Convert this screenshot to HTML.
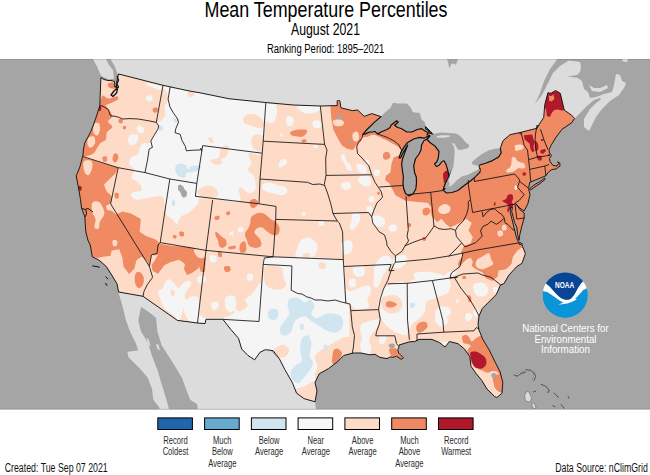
<!DOCTYPE html><html><head><meta charset="utf-8"><title>Mean Temperature Percentiles</title>
<style>html,body{margin:0;padding:0;background:#fff}svg{display:block}text{font-family:"Liberation Sans",sans-serif}</style></head><body>
<svg width="650" height="475" viewBox="0 0 650 475">
<rect width="650" height="475" fill="#fff"/>
<defs><clipPath id="mapclip"><rect x="0" y="59.0" width="650" height="350.7"/></clipPath>
<clipPath id="usclip"><path d="M100.9 77.6 L104 79.5 L108 80.5 L111 80.5 L114.5 81.5 L114.8 87 L116.3 87 L117 80 L118.6 74 L163 85.3 L169.8 86.8 L190 91.1 L200 92.8 L228.8 98.7 L265.4 102.5 L293.4 105 L320.3 106 L337.2 105.6 L337.2 100.7 L339.8 100.7 L340.9 107.8 L352.3 110.6 L357.7 110 L364.2 116.4 L371.7 113.6 L381 116.6 L400 115 L420 122 L426 127 L431 132 L435 136 L442 140 L452 150 L452.5 165 L449 176.6 L447.2 180.4 L447.5 185 L444.6 187.4 L446 189.8 L462 182 L475 175 L480 170.5 L479 166 L480 161 L492 154 L500.3 148.5 L503 140.7 L510 134.7 L521 132.3 L537.2 128.2 L539.4 124 L543.7 117.5 L544.8 104.5 L548 92.7 L551 93.3 L555.5 90.5 L560.3 93.3 L564.2 110 L571.7 115.3 L574.5 118.5 L571.7 122.8 L562 129.3 L558.8 133.6 L555.5 138 L551 145.5 L549 149.8 L549.5 153 L551.5 155.5 L549.5 158.5 L550 161.5 L553 165.5 L557 166 L558.5 163.5 L557.7 161.8 L559.8 163 L560 166 L556 169 L552 169.5 L549 171.5 L545.8 175.8 L538 179 L529.7 182.3 L528.6 188.8 L530 194.7 L527.9 203.6 L524.2 211 L519.8 208 L516.8 205 L515.4 203.5 L517.5 206 L519.8 209.5 L524.2 213 L524.2 218 L522 225.7 L519.8 234.5 L519 240.4 L517.6 234.5 L516.8 227.2 L514.6 222.7 L513.2 216.8 L511.7 211.7 L512.4 207.3 L510.5 207.5 L510.2 211.7 L511.7 218.3 L513.2 224.2 L514.6 230 L516 236 L517.6 240.4 L519.8 244.8 L522 243.4 L522 245 L525.4 253.6 L522 263.3 L516.8 266.5 L509 275 L503.8 283.8 L500.6 284.8 L496.3 294.5 L488.8 302 L482.3 308.5 L479 316 L478 324.7 L479 330 L482.8 339.4 L489.2 350 L494.6 361 L500 371.7 L502.8 382.5 L502 393.2 L496.8 397.5 L494.6 396.5 L487 389 L481.7 380.3 L476.3 373.8 L471 366.3 L469.8 356.6 L464.5 349 L458 343.7 L449.4 341.5 L445 347 L439.5 342.6 L432 339.4 L419 339.4 L414.8 341.5 L409.4 341.8 L399 345 L398.7 347.9 L397.7 349.6 L398.6 353 L403.4 357.9 L401.2 359.4 L396.5 356.2 L392.5 357.4 L390.5 356.8 L387 358.6 L380 357.4 L375 354.3 L369.7 354.8 L361 353 L353.3 353 L343.7 355.5 L337.2 362 L328.6 368.5 L319.2 373.8 L315 382.5 L317 391 L315 401.8 L304 398.6 L296.6 393.2 L292.3 382.5 L284.8 369.5 L279.4 358.8 L273 350.6 L265.4 349.7 L260 352.3 L254.6 359.8 L248 355.5 L241.7 349 L238.5 338.3 L231 329.7 L223.4 320 L222.3 319.3 L206 319.3 L205 323.6 L197.5 323 L177.4 320.4 L143 296.3 L118.6 292 L117 283.8 L111.7 275 L106.3 266.5 L98.8 260 L92.3 256.8 L90.2 245 L88 240.5 L85.8 231.8 L84.8 216.8 L81.5 208 L80.5 199.5 L78.3 186.6 L76.2 175.8 L78.3 171 L80 166.5 L81.8 160 L82.9 155.3 L83.5 149 L84.8 142.6 L88 137 L90.8 131.6 L93 126 L95.5 119 L97.5 113 L99.8 105.6Z M529.7 188.8 L534 185 L540 181.5 L544.8 178 L545 179.5 L540 183.5 L534 187.5 L530.5 190Z"/></clipPath></defs>
<g clip-path="url(#mapclip)">
<rect x="0" y="59.0" width="650" height="350.7" fill="#a5a5a5"/>
<path d="M110.5 59 L115 66.8 L117.2 73.3 L118.5 73.8 L120 140 L430 140 L440 196 L485 196 L505 140 L540 140 L560 125 L573 119 L574 119 L580 113 L588 105 L594 100 L600 98 L601 99.5 L596 103 L590 109 L584 119 L584 127 L589 131 L592 125 L596 117 L602 109 L610 101 L619 95 L624 88 L626 83 L622 81 L620 75 L616 74 L614 85 L612 92 L604 94 L596 97 L590 98 L588 92 L584 89 L582 81 L578 78 L567 76.6 L577 75 L580 72 L581 67 L580 62 L569 60.6 L560 66 L553 73 L547 85 L542 95 L535 104 L540 93 L544 81 L550 69 L556 61 L557 59Z" fill="#dcdcdc"/>
<path d="M92.9 59 L96.7 65.8 L99.4 72.2 L101.5 76 L109 79.6 L114 78.6 L113 70 L108.8 64.7 L106 59Z" fill="#dcdcdc"/>
<path d="M589 85 L594 88 L600 88 L607 85 L608 88 L600 92 L592 91Z" fill="#dcdcdc"/>
<path d="M622 59 L628 59 L627 62 L623 61.5Z" fill="#dcdcdc"/>
<path d="M118.6 292.7 L121.9 304 L126 320.5 L130 331.5 L135.5 342.4 L138.3 350.6 L133 351 L127.3 352 L128.7 357.5 L135.5 364.3 L141 369.8 L147.9 378 L152 389 L153.3 399.8 L158.8 406.7 L160 409.7 L169 409.7 L168.4 406.7 L165.6 397 L161.5 383.4 L157.4 369.8 L152 356 L147.9 342.4 L141 331.5 L138.3 320.5 L141 306.9 L149.2 312.3 L156 317.8 L157.4 331.5 L161.5 345 L168.4 356 L173.8 364.3 L182 378 L186 389 L190.2 399.8 L197 404 L198 409.7 L316 409.7 L315 401.8 L300 380 L260 340 L222 318 L143 290Z" fill="#dcdcdc"/>
<path d="M146.5 338 L148.5 339 L150.6 346.5 L148.5 345Z" fill="#dcdcdc"/>
<path d="M156 344 L158.5 344.5 L160 350.6 L157.5 349Z" fill="#dcdcdc"/>
<path d="M447.1 59.3 L457.8 59.3 L456.1 64.7 L451.8 63.2 L449.2 68.4 L448.4 63.6Z" fill="#a5a5a5"/>
<path d="M526.2 392 L528.5 391.6 L530 394.5 L531.5 398 L530 402 L527 401.5 L525.4 399.6 L524.6 396Z" fill="#dcdcdc" stroke="#444" stroke-width="0.4"/>
<path d="M532.3 402.7 L534 403 L536.2 408 L533.5 408.5 L532 405.5Z" fill="#dcdcdc" stroke="#444" stroke-width="0.4"/>
<path d="M533.5 373.5 L535 374 L535.4 376.5 L534.3 380.4 L532.6 380 L533.8 376.5Z" fill="#dcdcdc" stroke="#444" stroke-width="0.4"/>
<path d="M516.5 374 L521 372.5 L525.4 371.3 L525.6 372.3 L521 373.8 L517.5 376Z" fill="#dcdcdc" stroke="#444" stroke-width="0.4"/>
<path d="M548.6 390 L549.6 390.6 L548.8 392.8 L547.5 392.3Z" fill="#dcdcdc" stroke="#444" stroke-width="0.4"/>
<path d="M557.5 396 L559 397.3 L558 398.3 L556.8 397.3Z" fill="#dcdcdc" stroke="#444" stroke-width="0.4"/>
<path d="M513.8 375 L517 376.2 L521 373.5 L525.4 372 M525.4 369.6 L530.8 370.4 L534.6 373.5 L535.4 376.5 L533.8 380.4 M540.8 384.2 L546.2 386.5 L549.2 390.4 L548 392.7 M553.8 392.7 L556 395 L558.5 397.3 M568 396 L569 398.5 M560.8 404.2 L564.6 408.8 M552.5 405.5 L555.5 407 M533 392 L536 391" fill="none" stroke="#333" stroke-width="0.7"/>
<path d="M100.9 77.6 L104 79.5 L108 80.5 L111 80.5 L114.5 81.5 L114.8 87 L116.3 87 L117 80 L118.6 74 L163 85.3 L169.8 86.8 L190 91.1 L200 92.8 L228.8 98.7 L265.4 102.5 L293.4 105 L320.3 106 L337.2 105.6 L337.2 100.7 L339.8 100.7 L340.9 107.8 L352.3 110.6 L357.7 110 L364.2 116.4 L371.7 113.6 L381 116.6 L400 115 L420 122 L426 127 L431 132 L435 136 L442 140 L452 150 L452.5 165 L449 176.6 L447.2 180.4 L447.5 185 L444.6 187.4 L446 189.8 L462 182 L475 175 L480 170.5 L479 166 L480 161 L492 154 L500.3 148.5 L503 140.7 L510 134.7 L521 132.3 L537.2 128.2 L539.4 124 L543.7 117.5 L544.8 104.5 L548 92.7 L551 93.3 L555.5 90.5 L560.3 93.3 L564.2 110 L571.7 115.3 L574.5 118.5 L571.7 122.8 L562 129.3 L558.8 133.6 L555.5 138 L551 145.5 L549 149.8 L549.5 153 L551.5 155.5 L549.5 158.5 L550 161.5 L553 165.5 L557 166 L558.5 163.5 L557.7 161.8 L559.8 163 L560 166 L556 169 L552 169.5 L549 171.5 L545.8 175.8 L538 179 L529.7 182.3 L528.6 188.8 L530 194.7 L527.9 203.6 L524.2 211 L519.8 208 L516.8 205 L515.4 203.5 L517.5 206 L519.8 209.5 L524.2 213 L524.2 218 L522 225.7 L519.8 234.5 L519 240.4 L517.6 234.5 L516.8 227.2 L514.6 222.7 L513.2 216.8 L511.7 211.7 L512.4 207.3 L510.5 207.5 L510.2 211.7 L511.7 218.3 L513.2 224.2 L514.6 230 L516 236 L517.6 240.4 L519.8 244.8 L522 243.4 L522 245 L525.4 253.6 L522 263.3 L516.8 266.5 L509 275 L503.8 283.8 L500.6 284.8 L496.3 294.5 L488.8 302 L482.3 308.5 L479 316 L478 324.7 L479 330 L482.8 339.4 L489.2 350 L494.6 361 L500 371.7 L502.8 382.5 L502 393.2 L496.8 397.5 L494.6 396.5 L487 389 L481.7 380.3 L476.3 373.8 L471 366.3 L469.8 356.6 L464.5 349 L458 343.7 L449.4 341.5 L445 347 L439.5 342.6 L432 339.4 L419 339.4 L414.8 341.5 L409.4 341.8 L399 345 L398.7 347.9 L397.7 349.6 L398.6 353 L403.4 357.9 L401.2 359.4 L396.5 356.2 L392.5 357.4 L390.5 356.8 L387 358.6 L380 357.4 L375 354.3 L369.7 354.8 L361 353 L353.3 353 L343.7 355.5 L337.2 362 L328.6 368.5 L319.2 373.8 L315 382.5 L317 391 L315 401.8 L304 398.6 L296.6 393.2 L292.3 382.5 L284.8 369.5 L279.4 358.8 L273 350.6 L265.4 349.7 L260 352.3 L254.6 359.8 L248 355.5 L241.7 349 L238.5 338.3 L231 329.7 L223.4 320 L222.3 319.3 L206 319.3 L205 323.6 L197.5 323 L177.4 320.4 L143 296.3 L118.6 292 L117 283.8 L111.7 275 L106.3 266.5 L98.8 260 L92.3 256.8 L90.2 245 L88 240.5 L85.8 231.8 L84.8 216.8 L81.5 208 L80.5 199.5 L78.3 186.6 L76.2 175.8 L78.3 171 L80 166.5 L81.8 160 L82.9 155.3 L83.5 149 L84.8 142.6 L88 137 L90.8 131.6 L93 126 L95.5 119 L97.5 113 L99.8 105.6Z M529.7 188.8 L534 185 L540 181.5 L544.8 178 L545 179.5 L540 183.5 L534 187.5 L530.5 190Z" fill="#fddbc7"/>
<g clip-path="url(#usclip)">
<path d="M163 84 C168.5 83.5 182.8 87.3 200 90 C217.2 92.7 255.3 93.3 266 100 C276.7 106.7 264.6 121.1 264 130 C263.4 138.9 265.0 149.3 262.5 153.2 C260.0 157.1 251.0 151.6 249.2 153.2 C247.3 154.8 251.6 160.3 251.4 163 C251.2 165.7 247.7 167.3 248 169.4 C248.3 171.5 252.2 173.3 253.5 175.8 C254.8 178.3 255.5 182.0 255.7 184.5 C255.9 187.0 255.9 189.6 254.6 191 C253.3 192.4 250.2 193.6 248 193 C245.8 192.4 243.3 188.2 241.7 187.7 C240.1 187.2 238.7 188.0 238.5 189.8 C238.3 191.6 241.0 196.5 240.6 198.5 C240.2 200.5 240.1 201.9 236.3 202 C232.5 202.1 224.1 199.6 218 199 C211.9 198.4 203.4 197.7 200 198.5 C196.6 199.3 199.6 201.5 197.8 203.8 C196.0 206.1 192.1 210.3 189.2 212.5 C186.3 214.7 182.6 214.8 180.6 216.8 C178.6 218.8 178.8 223.9 177.4 224.3 C176.0 224.7 173.8 220.6 172 219 C170.2 217.4 167.8 216.9 166.6 214.6 C165.4 212.3 165.9 208.1 165 205 C164.1 201.9 164.4 197.4 161.2 196.3 C158.0 195.2 150.2 198.0 146 198.5 C141.8 199.0 138.5 200.1 136 199.5 C133.5 198.9 131.3 196.2 131 195 C130.7 193.8 132.3 192.8 134 192 C135.7 191.2 140.5 192.0 141.4 190.5 C142.3 189.0 140.8 185.0 139.2 183 C137.6 181.0 132.8 180.2 131.7 178.6 C130.6 177.0 132.5 174.8 132.8 173.2 C133.2 171.6 134.4 170.4 133.8 169 C133.2 167.6 130.0 166.4 129.5 164.6 C129.0 162.8 129.2 160.0 130.6 158.2 C132.0 156.4 136.6 155.8 138.2 153.8 C139.8 151.8 139.2 148.1 140.3 146.3 C141.4 144.5 143.2 143.6 144.6 143 C146.0 142.4 147.2 144.8 149 143 C150.8 141.2 153.8 135.2 155.4 132.3 C157.0 129.4 158.2 127.4 158.6 125.8 C158.9 124.2 157.0 123.4 157.5 122.6 C158.0 121.8 160.2 122.1 161.5 120.8 C162.8 119.5 164.9 116.9 165.4 114.6 C165.9 112.3 164.2 109.3 164.6 107 C165.0 104.7 167.3 103.1 167.7 100.8 C168.1 98.5 167.8 95.8 167 93 C166.2 90.2 157.5 84.5 163 84Z" fill="#f5f5f5"/>
<path d="M129.5 135.5 C130.9 134.1 135.7 133.8 137.1 134.5 C138.5 135.2 138.8 138.0 138.2 139.8 C137.6 141.6 135.4 144.6 133.8 145.2 C132.2 145.8 129.2 144.7 128.5 143.1 C127.8 141.5 128.1 136.9 129.5 135.5Z" fill="#f5f5f5"/>
<path d="M146.9 83.1 C147.9 82.8 151.4 83.6 153.8 84.2 C156.2 84.8 160.3 85.6 161.5 86.6 C162.7 87.6 162.0 89.6 161.2 90 C160.4 90.4 158.4 89.7 156.9 89.2 C155.4 88.7 153.8 87.8 152.3 87.2 C150.8 86.6 148.6 86.4 147.7 85.7 C146.8 85.0 145.9 83.3 146.9 83.1Z" fill="#f5f5f5"/>
<path d="M146.5 96.2 C147.4 95.6 150.5 94.8 151.5 95.4 C152.5 96.0 152.8 99.0 152.3 100 C151.8 101.0 149.5 101.6 148.5 101.5 C147.5 101.4 146.5 100.1 146.2 99.2 C145.9 98.3 145.6 96.8 146.5 96.2Z" fill="#f5f5f5"/>
<path d="M136.9 126.9 C137.5 126.0 140.2 125.5 141.5 126.2 C142.8 126.9 144.6 129.6 144.6 130.8 C144.6 132.0 142.7 133.3 141.5 133.4 C140.3 133.5 138.5 132.6 137.7 131.5 C136.9 130.4 136.3 127.8 136.9 126.9Z" fill="#f5f5f5"/>
<path d="M165.5 281.3 C166.4 280.4 168.4 278.8 169.8 279.2 C171.2 279.6 172.8 282.1 174.2 283.5 C175.6 284.9 177.1 287.8 178.5 287.8 C179.9 287.8 181.2 284.7 182.8 283.5 C184.4 282.3 186.8 280.7 188.2 280.7 C189.6 280.7 191.4 282.1 191.4 283.5 C191.4 284.9 189.3 287.0 188.2 288.8 C187.1 290.6 185.3 292.4 184.9 294.2 C184.5 296.0 184.9 299.2 186 299.6 C187.1 300.0 189.4 296.8 191.4 296.4 C193.4 296.0 196.5 295.9 197.8 297.5 C199.1 299.1 199.3 302.2 199.4 306.1 C199.5 310.1 200.0 318.7 198.5 321.2 C197.0 323.7 192.6 322.3 190.3 321.2 C188.0 320.1 186.0 316.9 184.9 314.7 C183.8 312.5 184.7 307.3 183.8 308.2 C182.9 309.1 181.3 319.0 179.5 320.1 C177.7 321.2 175.6 316.7 173.1 314.7 C170.6 312.7 166.7 310.9 164.5 308.2 C162.3 305.5 161.3 301.2 160.2 298.5 C159.1 295.8 157.7 293.7 158 292.1 C158.3 290.5 161.2 290.1 162.3 288.8 C163.4 287.5 164.0 285.8 164.5 284.5 C165.0 283.2 164.6 282.2 165.5 281.3Z" fill="#f5f5f5"/>
<path d="M197.8 277 C198.8 275.7 203.7 275.2 205 275.9 C206.3 276.6 206.4 280.0 205.4 281.3 C204.4 282.6 200.2 284.2 198.9 283.5 C197.6 282.8 196.8 278.3 197.8 277Z" fill="#f5f5f5"/>
<path d="M210.1 255.5 C210.9 254.5 214.7 254.9 215.7 255.9 C216.7 256.9 217.0 260.3 216.2 261.3 C215.3 262.3 211.6 262.7 210.6 261.7 C209.6 260.7 209.2 256.5 210.1 255.5Z" fill="#f5f5f5"/>
<path d="M247.6 274.2 C248.5 273.3 252.0 273.6 252.8 274.6 C253.6 275.6 253.2 279.3 252.3 280.2 C251.4 281.1 248.4 280.8 247.6 279.8 C246.8 278.8 246.7 275.1 247.6 274.2Z" fill="#f5f5f5"/>
<path d="M211.4 303.5 C212.1 302.1 216.0 301.2 217.2 301.8 C218.3 302.4 219.0 305.8 218.3 307.2 C217.6 308.6 214.1 310.6 212.9 310 C211.8 309.4 210.7 304.9 211.4 303.5Z" fill="#f5f5f5"/>
<path d="M225.8 297.5 C227.2 295.5 232.8 295.0 234.5 296.4 C236.2 297.8 236.6 303.4 236 306.1 C235.4 308.8 232.9 312.1 231.2 312.5 C229.5 312.9 226.7 310.7 225.8 308.2 C224.9 305.7 224.4 299.5 225.8 297.5Z" fill="#f5f5f5"/>
<path d="M261.8 285 C260.6 279.1 257.9 287.1 256 288.8 C254.1 290.5 252.4 293.5 250.6 295.3 C248.8 297.1 245.7 297.8 245.2 299.6 C244.7 301.4 248.3 304.1 247.4 306.1 C246.5 308.1 242.0 311.1 239.8 311.5 C237.7 311.9 235.6 307.8 234.5 308.2 C233.4 308.6 235.4 312.0 233.4 313.6 C231.4 315.2 227.3 317.2 222.6 317.9 C217.9 318.6 209.3 318.4 205.4 317.9 C201.5 317.4 200.6 313.6 199.4 314.7 C198.2 315.8 187.8 322.8 198.5 324.4 C209.2 326.0 252.9 331.0 263.5 324.4 C274.1 317.8 263.1 290.9 261.8 285Z" fill="#f5f5f5"/>
<path d="M267.5 105.5 C268.9 104.1 273.5 103.7 275.1 104.4 C276.7 105.1 277.0 107.7 277.2 109.8 C277.4 111.9 276.9 115.1 276.2 117.3 C275.5 119.5 274.3 122.0 272.9 122.7 C271.4 123.4 268.6 123.2 267.5 121.6 C266.4 120.0 266.5 115.7 266.5 113 C266.5 110.3 266.1 106.9 267.5 105.5Z" fill="#f5f5f5"/>
<path d="M286.5 117.3 C287.2 115.9 290.0 115.7 291.2 116.2 C292.4 116.7 293.8 118.9 293.8 120.5 C293.8 122.1 292.4 125.2 291.2 125.9 C290.0 126.6 287.7 126.2 286.9 124.8 C286.1 123.4 285.8 118.7 286.5 117.3Z" fill="#f5f5f5"/>
<path d="M297.7 105.5 C300.6 104.4 315.7 104.6 319.2 105.5 C322.7 106.4 320.2 109.5 318.8 110.8 C317.4 112.1 313.4 113.2 310.6 113.4 C307.8 113.6 304.1 113.2 302 111.9 C299.9 110.6 294.8 106.6 297.7 105.5Z" fill="#f5f5f5"/>
<path d="M312.8 121.6 C313.7 120.4 317.7 120.0 319.2 120.5 C320.7 121.0 321.8 123.5 321.8 124.8 C321.8 126.1 320.5 127.7 319.2 128.1 C317.9 128.5 314.9 128.5 313.8 127.4 C312.7 126.3 311.9 122.8 312.8 121.6Z" fill="#f5f5f5"/>
<path d="M280.5 133.5 C280.9 133.0 282.2 133.0 282.6 133.5 C283.0 134.0 283.0 135.8 282.6 136.3 C282.2 136.8 280.9 136.8 280.5 136.3 C280.1 135.8 280.1 134.0 280.5 133.5Z" fill="#f5f5f5"/>
<path d="M280.5 160.4 C281.7 159.2 284.7 159.0 285.8 159.3 C286.9 159.7 287.4 161.2 286.9 162.5 C286.4 163.8 284.0 166.2 282.6 166.8 C281.2 167.5 279.1 167.5 278.7 166.4 C278.3 165.3 279.3 161.6 280.5 160.4Z" fill="#f5f5f5"/>
<path d="M313.8 145.3 C314.4 144.9 316.6 144.9 317.1 145.3 C317.7 145.7 317.7 147.3 317.1 147.7 C316.6 148.1 314.4 148.1 313.8 147.7 C313.2 147.3 313.2 145.7 313.8 145.3Z" fill="#f5f5f5"/>
<path d="M262.2 184.4 C263.3 183.1 268.1 182.5 270.8 182.7 C273.5 182.9 275.8 184.7 278.3 185.5 C280.8 186.3 284.4 186.3 285.8 187.6 C287.2 188.8 287.8 191.7 286.9 193 C286.0 194.3 283.0 195.2 280.5 195.2 C278.0 195.2 274.5 193.7 271.8 193 C269.1 192.3 265.9 192.2 264.3 190.8 C262.7 189.4 261.1 185.8 262.2 184.4Z" fill="#f5f5f5"/>
<path d="M302 239.3 C304.1 237.9 308.1 237.3 310.6 238.2 C313.1 239.1 316.2 242.2 317.1 244.7 C318.0 247.2 317.1 251.2 316 253.3 C314.9 255.5 312.9 256.7 310.6 257.6 C308.3 258.5 304.5 259.1 302 258.7 C299.5 258.3 296.2 257.5 295.5 255.5 C294.8 253.5 296.6 249.5 297.7 246.8 C298.8 244.1 299.9 240.7 302 239.3Z" fill="#f5f5f5"/>
<path d="M319.2 221.4 C319.9 220.8 322.8 220.8 323.5 221.4 C324.2 222.1 324.2 224.7 323.5 225.3 C322.8 226.0 319.9 226.0 319.2 225.3 C318.5 224.7 318.5 222.1 319.2 221.4Z" fill="#f5f5f5"/>
<path d="M302 212.4 C302.5 211.9 304.7 211.9 305.2 212.4 C305.7 212.9 305.7 215.1 305.2 215.6 C304.7 216.1 302.5 216.1 302 215.6 C301.5 215.1 301.5 212.9 302 212.4Z" fill="#f5f5f5"/>
<path d="M238.5 227.5 C239.2 226.8 242.1 226.8 242.8 227.5 C243.5 228.2 243.5 231.1 242.8 231.8 C242.1 232.5 239.2 232.5 238.5 231.8 C237.8 231.1 237.8 228.2 238.5 227.5Z" fill="#f5f5f5"/>
<path d="M229.8 231.8 C230.4 231.3 232.6 231.3 233.1 231.8 C233.6 232.3 233.6 234.5 233.1 235 C232.6 235.5 230.4 235.5 229.8 235 C229.2 234.5 229.2 232.3 229.8 231.8Z" fill="#f5f5f5"/>
<path d="M210.5 256.5 C211.4 255.8 214.9 255.8 215.8 256.5 C216.7 257.2 216.7 260.1 215.8 260.8 C214.9 261.5 211.4 261.5 210.5 260.8 C209.6 260.1 209.6 257.2 210.5 256.5Z" fill="#f5f5f5"/>
<path d="M262.9 257.6 L293 257.6 L316.8 257.5 L343.5 259.6 L345 270 L345.8 303 L349 306 L349.5 337 L344.5 337 L335 341.8 L327 346.6 L319.2 351.3 L314.5 356 L317.6 367 L314.5 375 L316 381.3 L313 381.3 L305 386 L295.5 389.2 L290 400 L240 365 L215 322 L222 319 L259 321 L263 264.4Z" fill="#f5f5f5"/>
<path d="M341.5 243.6 C342.4 241.6 346.4 241.1 348 241.5 C349.6 241.9 351.0 244.0 351.2 245.8 C351.4 247.6 350.5 250.9 349.1 252.2 C347.7 253.4 343.9 254.7 342.6 253.3 C341.3 251.9 340.6 245.6 341.5 243.6Z" fill="#f5f5f5"/>
<path d="M353.4 267.3 C354.9 266.0 361.3 264.9 363.1 266.2 C364.9 267.4 365.1 273.0 364.2 274.8 C363.3 276.6 359.4 277.2 357.7 277 C356.0 276.8 354.5 275.4 353.8 273.8 C353.1 272.2 351.8 268.6 353.4 267.3Z" fill="#f5f5f5"/>
<path d="M349.5 279.6 C350.4 278.4 354.1 278.1 355.1 279.2 C356.1 280.3 356.4 285.1 355.5 286.3 C354.6 287.6 350.7 287.8 349.7 286.7 C348.7 285.6 348.6 280.9 349.5 279.6Z" fill="#f5f5f5"/>
<path d="M344.8 288.8 C345.9 287.4 348.3 291.4 351.2 291 C354.1 290.6 358.9 287.6 362 286.7 C365.1 285.8 368.1 284.5 369.5 285.6 C370.9 286.7 371.0 290.9 370.6 293.2 C370.2 295.5 367.8 297.3 367.4 299.6 C367.0 301.9 370.1 305.6 368.5 307.2 C366.9 308.8 360.6 309.5 357.7 309.3 C354.8 309.1 353.3 307.7 351.2 306.1 C349.1 304.5 345.9 302.5 344.8 299.6 C343.7 296.7 343.7 290.2 344.8 288.8Z" fill="#f5f5f5"/>
<path d="M373.8 267.3 C374.5 265.7 378.1 265.1 379.2 266.2 C380.3 267.3 380.5 270.4 380.3 273.8 C380.1 277.2 379.4 284.7 378.2 286.7 C377.0 288.7 373.8 287.4 373.2 285.6 C372.6 283.8 374.8 278.9 374.9 275.9 C375.0 272.8 373.1 268.9 373.8 267.3Z" fill="#f5f5f5"/>
<path d="M420 274.7 C422.1 270.4 428.4 272.0 432.9 272.5 C437.4 273.0 444.4 275.0 446.9 277.9 C449.4 280.8 450.0 286.4 448 289.8 C446.0 293.2 439.8 297.0 435.1 298.4 C430.4 299.8 422.5 302.3 420 298.4 C417.5 294.4 417.9 279.0 420 274.7Z" fill="#f5f5f5"/>
<path d="M473.8 284.4 C474.9 282.7 479.6 282.4 481.4 282.9 C483.2 283.4 484.4 285.7 484.6 287.6 C484.8 289.5 484.1 293.2 482.5 294.1 C480.9 295.0 476.3 294.6 474.9 293 C473.4 291.4 472.7 286.1 473.8 284.4Z" fill="#f5f5f5"/>
<path d="M341.9 154.3 C342.5 153.8 344.5 154.3 345.2 155.4 C345.9 156.5 345.3 159.2 346.2 160.8 C347.1 162.4 349.6 163.5 350.5 165.1 C351.4 166.7 352.1 169.8 351.6 170.5 C351.1 171.2 348.6 170.7 347.3 169.4 C346.1 168.1 345.1 164.7 344.1 162.9 C343.1 161.1 341.7 160.0 341.3 158.6 C340.9 157.2 341.2 154.8 341.9 154.3Z" fill="#f5f5f5"/>
<path d="M357 164 C358.1 163.5 361.9 164.2 363.5 165.1 C365.1 166.0 366.3 168.0 366.7 169.4 C367.1 170.8 366.7 173.2 365.6 173.7 C364.5 174.2 361.6 173.5 360.2 172.6 C358.8 171.7 357.5 169.7 357 168.3 C356.5 166.9 355.9 164.5 357 164Z" fill="#f5f5f5"/>
<path d="M365.6 159.7 C366.1 159.2 368.2 160.0 368.8 160.8 C369.4 161.6 369.8 164.1 369.3 164.6 C368.8 165.1 366.4 164.8 365.8 164 C365.2 163.2 365.1 160.2 365.6 159.7Z" fill="#f5f5f5"/>
<path d="M374.2 170.5 C374.9 169.5 378.7 169.1 379.6 169.8 C380.5 170.5 380.3 173.8 379.6 174.8 C378.9 175.8 376.2 176.5 375.3 175.8 C374.4 175.1 373.5 171.5 374.2 170.5Z" fill="#f5f5f5"/>
<path d="M359.2 176.9 C360.8 176.2 365.8 174.9 367.8 175.8 C369.8 176.7 371.0 180.5 371 182.3 C371.0 184.1 369.4 186.2 367.8 186.6 C366.2 187.0 362.9 185.6 361.3 184.5 C359.7 183.4 358.5 181.5 358.1 180.2 C357.8 178.9 357.6 177.6 359.2 176.9Z" fill="#f5f5f5"/>
<path d="M341.9 183.4 C343.3 182.6 348.1 181.6 349.5 182.3 C350.9 183.0 351.2 186.4 350.5 187.7 C349.8 188.9 346.7 189.9 345.2 189.8 C343.7 189.7 341.9 188.1 341.3 187 C340.8 185.9 340.5 184.2 341.9 183.4Z" fill="#f5f5f5"/>
<path d="M368.8 197 C369.4 196.0 372.7 195.6 373.6 196.3 C374.5 197.0 374.8 200.3 374.2 201.3 C373.6 202.3 370.8 202.8 369.9 202.1 C369.0 201.4 368.2 198.0 368.8 197Z" fill="#f5f5f5"/>
<path d="M366.3 207.1 C366.9 206.1 370.3 205.7 371.4 206.4 C372.5 207.1 373.3 210.4 372.7 211.4 C372.1 212.4 368.9 213.2 367.8 212.5 C366.7 211.8 365.7 208.1 366.3 207.1Z" fill="#f5f5f5"/>
<path d="M352.7 213.5 C353.8 212.2 356.9 211.6 358.1 212.5 C359.4 213.4 360.4 216.8 360.2 218.9 C360.0 221.1 358.2 223.6 357 225.4 C355.8 227.2 353.9 229.5 352.7 229.7 C351.4 229.9 349.7 228.1 349.5 226.5 C349.3 224.9 351.1 222.2 351.6 220 C352.1 217.8 351.6 214.8 352.7 213.5Z" fill="#f5f5f5"/>
<path d="M371.4 216.8 C372.5 215.6 377.3 215.2 379.6 215.7 C381.9 216.2 384.3 218.4 385 220 C385.7 221.6 385.1 224.3 383.9 225.4 C382.6 226.5 379.4 226.9 377.5 226.5 C375.6 226.1 373.7 224.8 372.7 223.2 C371.7 221.6 370.2 218.1 371.4 216.8Z" fill="#f5f5f5"/>
<path d="M389.3 225.4 C390.5 224.7 394.6 224.3 395.8 225 C397.1 225.7 397.5 228.6 396.8 229.7 C396.1 230.8 392.9 231.9 391.5 231.8 C390.1 231.7 389.1 230.4 388.7 229.3 C388.3 228.2 388.1 226.1 389.3 225.4Z" fill="#f5f5f5"/>
<path d="M344.1 242.6 C345.4 240.4 349.1 239.8 350.5 240.5 C351.9 241.2 352.9 244.8 352.7 246.9 C352.5 249.1 351.1 252.3 349.5 253.4 C347.9 254.5 343.9 255.2 343 253.4 C342.1 251.6 342.9 244.8 344.1 242.6Z" fill="#f5f5f5"/>
<path d="M319.3 221.1 C320.0 220.4 322.9 220.4 323.6 221.1 C324.3 221.8 324.3 224.7 323.6 225.4 C322.9 226.1 320.0 226.1 319.3 225.4 C318.6 224.7 318.6 221.8 319.3 221.1Z" fill="#f5f5f5"/>
<path d="M386.2 286.3 C390.5 285.1 404.1 276.8 407.7 284.2 C411.3 291.6 408.2 322.1 407.7 330.5 C407.2 338.9 406.5 334.4 404.5 334.8 C402.5 335.2 398.7 334.0 395.8 332.6 C392.9 331.2 389.5 328.4 387.2 326.2 C384.9 324.0 383.1 322.2 381.8 319.7 C380.6 317.2 380.2 314.3 379.7 311.1 C379.2 307.9 378.2 303.5 378.6 300.3 C379.0 297.1 380.5 294.0 381.8 291.7 C383.1 289.4 381.9 287.6 386.2 286.3Z" fill="#f5f5f5"/>
<path d="M408.8 283.1 C412.8 275.6 428.2 279.8 432.5 280.9 C436.8 282.0 434.8 287.0 434.6 289.5 C434.4 292.0 432.8 293.8 431.4 296 C430.0 298.2 427.1 300.0 426 302.5 C424.9 305.0 425.8 308.6 424.9 311.1 C424.0 313.6 422.6 315.5 420.6 317.5 C418.6 319.5 415.1 321.4 413.1 322.9 C411.1 324.3 409.5 332.8 408.8 326.2 C408.1 319.6 404.9 290.7 408.8 283.1Z" fill="#f5f5f5"/>
<path d="M433.5 279.8 C435.3 277.5 444.6 278.2 447.5 278.8 C450.4 279.4 450.6 281.0 450.8 283.1 C451.0 285.2 449.9 289.7 448.6 291.7 C447.3 293.7 445.2 294.7 443.2 294.9 C441.2 295.1 438.4 295.3 436.8 292.8 C435.2 290.3 431.7 282.1 433.5 279.8Z" fill="#f5f5f5"/>
<path d="M414.2 273.4 C415.1 272.2 417.9 272.1 420.6 271.9 C423.3 271.7 428.0 271.7 430.3 272.3 C432.6 272.9 434.4 274.2 434.6 275.5 C434.8 276.8 433.5 279.1 431.4 279.8 C429.2 280.5 424.4 280.0 421.7 279.8 C419.0 279.6 416.4 279.9 415.2 278.8 C413.9 277.7 413.3 274.5 414.2 273.4Z" fill="#f5f5f5"/>
<path d="M444.3 276.6 C444.5 275.5 446.6 273.2 448.6 272.3 C450.6 271.4 455.3 270.7 456.2 271.2 C457.1 271.7 455.4 274.2 454 275.5 C452.6 276.8 449.1 278.6 447.5 278.8 C445.9 279.0 444.1 277.7 444.3 276.6Z" fill="#f5f5f5"/>
<path d="M435.7 311.1 C436.6 309.1 439.0 307.4 441.1 306.8 C443.2 306.2 447.0 306.7 448.6 307.8 C450.2 308.9 451.3 311.4 450.8 313.2 C450.3 315.0 446.7 316.4 445.4 318.6 C444.1 320.8 444.5 325.1 443.2 326.2 C441.9 327.3 439.1 326.4 437.8 325.1 C436.6 323.8 436.1 320.9 435.7 318.6 C435.3 316.3 434.8 313.1 435.7 311.1Z" fill="#f5f5f5"/>
<path d="M465.8 314.3 C466.6 313.3 469.1 312.7 470.2 313.2 C471.3 313.7 472.7 316.1 472.3 317.5 C471.9 318.9 469.1 321.1 468 321.4 C466.9 321.7 465.8 320.5 465.4 319.3 C465.0 318.1 465.0 315.3 465.8 314.3Z" fill="#f5f5f5"/>
<path d="M473.4 311.1 C473.9 310.0 476.8 309.3 477.7 310 C478.6 310.7 479.3 314.3 478.8 315.4 C478.3 316.5 475.4 317.2 474.5 316.5 C473.6 315.8 472.9 312.2 473.4 311.1Z" fill="#f5f5f5"/>
<path d="M474.5 284.2 C475.9 282.8 480.9 282.4 483.1 283.1 C485.4 283.8 487.5 286.5 488 288.5 C488.5 290.5 487.8 293.6 486.3 294.9 C484.8 296.2 480.8 296.9 478.8 296.4 C476.8 295.9 475.2 293.7 474.5 291.7 C473.8 289.7 473.1 285.6 474.5 284.2Z" fill="#f5f5f5"/>
<path d="M492.8 287.8 C493.4 286.8 496.2 286.4 497.1 287 C498.0 287.6 498.8 290.7 498.2 291.7 C497.6 292.7 494.7 293.4 493.8 292.8 C492.9 292.2 492.2 288.8 492.8 287.8Z" fill="#f5f5f5"/>
<path d="M376.5 262.6 C377.9 259.9 380.6 257.1 382.9 256.2 C385.2 255.3 389.1 255.9 390.5 257.2 C391.9 258.4 392.2 261.5 391.5 263.7 C390.8 265.9 387.8 267.9 386.2 270.2 C384.6 272.5 383.1 275.2 381.8 277.7 C380.5 280.2 379.8 284.7 378.6 285.2 C377.4 285.7 375.4 283.0 374.7 280.9 C374.0 278.8 374.0 275.4 374.3 272.3 C374.6 269.2 375.1 265.3 376.5 262.6Z" fill="#f5f5f5"/>
<path d="M393.7 258.3 C395.5 256.3 402.4 254.6 404.5 255.1 C406.6 255.6 407.3 259.4 406.6 261.5 C405.9 263.6 402.4 267.1 400.2 268 C398.0 268.9 394.8 268.5 393.7 266.9 C392.6 265.3 391.9 260.3 393.7 258.3Z" fill="#f5f5f5"/>
<path d="M456.2 299.9 C456.6 299.5 458.3 299.5 458.7 299.9 C459.1 300.3 459.1 302.1 458.7 302.5 C458.3 302.9 456.6 302.9 456.2 302.5 C455.8 302.1 455.8 300.3 456.2 299.9Z" fill="#f5f5f5"/>
<path d="M442.5 342.5 C443.3 341.8 446.8 341.5 447.6 342.1 C448.5 342.7 448.4 345.2 447.6 345.9 C446.8 346.6 443.7 346.9 442.8 346.3 C441.9 345.7 441.7 343.2 442.5 342.5Z" fill="#f5f5f5"/>
<path d="M435.5 318.3 C437.4 317.6 445.7 317.4 447.6 318.3 C449.5 319.2 448.0 322.7 446.8 323.8 C445.6 324.9 442.4 325.0 440.7 324.8 C439.0 324.6 437.3 323.7 436.4 322.6 C435.5 321.5 433.6 319.0 435.5 318.3Z" fill="#f5f5f5"/>
<path d="M361.1 324.5 C362.2 322.9 364.8 322.9 367.1 322 C369.4 321.1 372.9 319.7 374.9 319.4 C376.9 319.1 378.8 319.0 379.2 320.2 C379.6 321.4 378.4 324.4 377.5 326.3 C376.6 328.2 375.1 329.9 374 331.5 C372.9 333.1 371.5 334.1 370.6 335.8 C369.8 337.5 368.8 339.9 368.9 341.8 C369.0 343.7 371.5 345.0 371.5 347 C371.5 349.0 370.5 352.9 368.9 353.9 C367.3 354.9 363.4 354.4 362 353 C360.6 351.6 360.2 347.7 360.2 345.3 C360.2 342.9 362.0 340.7 362 338.4 C362.0 336.1 360.3 333.8 360.2 331.5 C360.1 329.2 360.0 326.1 361.1 324.5Z" fill="#f5f5f5"/>
<path d="M380.1 336.6 C381.1 335.5 384.3 335.2 385.3 335.8 C386.3 336.4 386.5 338.7 386.1 340.1 C385.7 341.5 383.9 344.0 382.7 344.4 C381.5 344.8 379.6 344.0 379.2 342.7 C378.8 341.4 379.1 337.8 380.1 336.6Z" fill="#f5f5f5"/>
<path d="M170.9 289.9 C171.4 289.1 173.6 289.5 174.2 290.4 C174.8 291.3 174.7 294.5 174.2 295.3 C173.7 296.1 171.6 296.2 171.1 295.3 C170.6 294.4 170.4 290.7 170.9 289.9Z" fill="#fddbc7"/>
<path d="M243.8 117.3 C244.7 115.9 247.0 114.4 249.2 114.1 C251.4 113.8 254.6 114.3 256.8 115.2 C259.0 116.1 260.9 117.9 262.2 119.5 C263.4 121.1 264.5 123.4 264.3 124.8 C264.1 126.2 262.7 127.7 261.1 128.1 C259.5 128.5 256.8 127.5 254.6 127 C252.4 126.5 250.0 125.5 248.2 124.8 C246.4 124.1 244.5 124.0 243.8 122.7 C243.1 121.5 242.9 118.7 243.8 117.3Z" fill="#fddbc7"/>
<path d="M252.5 136.7 C253.8 135.2 256.9 134.2 258.9 134.5 C260.9 134.8 263.6 135.9 264.3 138.8 C265.0 141.7 264.8 150.0 263.2 151.8 C261.6 153.6 256.6 151.0 254.6 149.6 C252.6 148.2 251.8 145.3 251.4 143.2 C251.1 141.0 251.2 138.1 252.5 136.7Z" fill="#fddbc7"/>
<path d="M208.3 137.8 C208.5 137.0 210.6 137.1 211.5 137.8 C212.4 138.5 213.9 141.3 213.7 142.1 C213.5 142.9 211.4 143.4 210.5 142.7 C209.6 142.0 208.1 138.6 208.3 137.8Z" fill="#fddbc7"/>
<path d="M220.2 149.6 C221.3 147.6 224.1 145.7 225.5 145.3 C226.9 145.0 228.6 145.7 228.8 147.5 C229.0 149.3 227.9 154.1 226.6 156.1 C225.3 158.1 221.9 158.1 221.2 159.3 C220.5 160.6 223.2 162.7 222.3 163.6 C221.4 164.5 217.8 165.0 215.8 164.7 C213.8 164.3 211.0 162.4 210.5 161.5 C210.0 160.6 211.2 160.0 212.6 159.3 C214.0 158.6 217.8 158.8 219.1 157.2 C220.4 155.6 219.1 151.6 220.2 149.6Z" fill="#fddbc7"/>
<path d="M187.8 91.5 C188.7 90.9 192.0 91.6 193.2 92.1 C194.3 92.6 195.0 93.9 194.7 94.7 C194.3 95.5 192.2 96.6 191.1 96.8 C189.9 97.0 188.4 96.7 187.8 95.8 C187.2 94.9 186.9 92.1 187.8 91.5Z" fill="#fddbc7"/>
<path d="M199.7 188.7 C201.3 187.4 204.7 185.7 207.2 185.5 C209.7 185.3 213.0 186.2 214.8 187.6 C216.6 189.0 218.2 192.4 218 194.1 C217.8 195.8 216.2 197.2 213.7 197.7 C211.2 198.2 205.6 197.7 202.9 196.9 C200.2 196.1 198.0 194.4 197.5 193 C197.0 191.6 198.1 189.9 199.7 188.7Z" fill="#fddbc7"/>
<path d="M265.5 266.1 C268.4 264.5 278.4 266.0 281.3 267.6 C284.2 269.2 282.1 272.6 282.9 275.5 C283.7 278.4 286.9 282.6 286.1 285 C285.3 287.4 281.4 289.4 278.2 289.7 C275.0 290.0 269.5 288.7 267.1 286.6 C264.7 284.5 264.2 280.5 263.9 277.1 C263.6 273.7 262.6 267.7 265.5 266.1Z" fill="#fddbc7"/>
<path d="M275 348.2 C276.3 346.9 280.5 344.8 282.9 345 C285.3 345.2 288.7 347.8 289.2 349.7 C289.7 351.6 287.7 354.8 286.1 356.1 C284.5 357.4 281.6 358.1 279.7 357.6 C277.8 357.1 275.8 354.5 275 352.9 C274.2 351.3 273.7 349.5 275 348.2Z" fill="#fddbc7"/>
<path d="M318.9 263 C319.9 262.2 324.4 262.5 325.4 263.4 C326.4 264.3 326.0 267.6 325 268.4 C324.0 269.2 320.4 268.9 319.4 268 C318.4 267.1 317.9 263.8 318.9 263Z" fill="#fddbc7"/>
<path d="M303.4 254 C304.3 253.2 308.2 252.7 309.2 253.3 C310.2 253.9 310.1 256.9 309.2 257.6 C308.3 258.4 304.8 258.4 303.8 257.8 C302.8 257.2 302.5 254.8 303.4 254Z" fill="#fddbc7"/>
<path d="M382.9 297.1 C384.9 295.8 389.7 294.7 392.6 294.9 C395.5 295.1 398.6 296.4 400.2 298.2 C401.8 300.0 402.7 303.4 402.3 305.7 C401.9 308.0 400.1 310.9 398 312.2 C395.9 313.4 391.9 313.8 389.4 313.2 C386.9 312.6 384.3 310.7 382.9 308.9 C381.5 307.1 380.8 304.5 380.8 302.5 C380.8 300.5 380.9 298.4 382.9 297.1Z" fill="#fddbc7"/>
<path d="M175.8 165.7 C176.7 164.2 179.4 163.5 181.2 163.5 C183.0 163.5 185.5 164.8 186.6 165.7 C187.7 166.6 185.9 168.7 187.7 168.9 C189.5 169.1 195.6 166.6 197.4 166.8 C199.2 167.0 199.4 169.1 198.5 170 C197.6 170.9 194.0 171.7 192 172.2 C190.0 172.7 187.8 172.3 186.6 173.2 C185.3 174.1 185.8 176.9 184.5 177.5 C183.2 178.1 180.5 177.4 179.1 176.5 C177.7 175.6 176.4 174.0 175.8 172.2 C175.2 170.4 174.9 167.1 175.8 165.7Z" fill="#d1e5f0"/>
<path d="M158.6 125.8 C159.1 125.2 161.6 125.7 162.3 126.3 C163.0 126.9 163.4 129.0 162.9 129.7 C162.4 130.3 160.0 130.8 159.3 130.2 C158.6 129.5 158.1 126.4 158.6 125.8Z" fill="#d1e5f0"/>
<path d="M173.9 118.3 C174.6 117.8 177.4 118.3 178 119 C178.6 119.7 178.1 122.1 177.4 122.6 C176.8 123.1 174.7 122.7 174.1 122 C173.5 121.3 173.2 118.8 173.9 118.3Z" fill="#d1e5f0"/>
<path d="M172 200.6 C172.5 200.0 174.8 200.5 175.2 201.3 C175.6 202.1 175.1 205.0 174.6 205.6 C174.1 206.2 172.4 205.7 172 204.9 C171.6 204.1 171.5 201.2 172 200.6Z" fill="#d1e5f0"/>
<path d="M190 166.8 C191.1 165.9 195.5 165.8 197.5 165.8 C199.5 165.8 201.8 166.1 201.8 166.8 C201.8 167.5 199.3 169.4 197.5 170.1 C195.7 170.8 192.3 171.8 191.1 171.2 C189.8 170.6 188.9 167.7 190 166.8Z" fill="#d1e5f0"/>
<path d="M268.7 310.3 C270.0 308.8 275.0 308.5 276.6 309.3 C278.2 310.1 278.5 313.3 278.2 315 C277.9 316.7 276.6 319.2 275 319.7 C273.4 320.2 269.8 319.8 268.7 318.2 C267.6 316.6 267.4 311.8 268.7 310.3Z" fill="#d1e5f0"/>
<path d="M289.2 299.2 C290.8 297.9 294.5 297.1 297.1 297.6 C299.7 298.1 302.9 302.1 305 302.4 C307.1 302.7 308.1 298.7 309.7 299.2 C311.3 299.7 314.2 303.1 314.5 305.5 C314.8 307.9 311.0 311.3 311.3 313.4 C311.6 315.5 314.0 317.9 316.1 318.2 C318.2 318.5 321.3 315.8 323.9 315 C326.5 314.2 328.9 313.1 331.8 313.4 C334.7 313.7 339.5 314.5 341.3 316.6 C343.1 318.7 343.7 323.5 342.9 326.1 C342.1 328.7 339.2 331.6 336.6 332.4 C334.0 333.2 330.0 331.9 327.1 330.8 C324.2 329.8 321.8 327.7 319.2 326.1 C316.6 324.5 313.7 322.9 311.3 321.3 C308.9 319.7 307.1 317.1 305 316.6 C302.9 316.1 300.6 317.1 298.7 318.2 C296.8 319.2 295.2 320.5 293.9 322.9 C292.6 325.3 292.6 330.3 290.8 332.4 C289.0 334.5 284.8 336.0 282.9 335.5 C281.0 335.0 279.4 331.6 279.7 329.2 C280.0 326.8 282.9 323.9 284.5 321.3 C286.1 318.7 288.7 316.0 289.2 313.4 C289.7 310.8 287.6 307.9 287.6 305.5 C287.6 303.1 287.6 300.5 289.2 299.2Z" fill="#d1e5f0"/>
<path d="M301.8 338.7 C303.1 336.3 306.6 334.7 308.2 335.5 C309.8 336.3 311.1 340.0 311.3 343.4 C311.6 346.8 309.4 352.9 309.7 356.1 C310.0 359.3 312.9 360.0 312.9 362.4 C312.9 364.8 311.3 367.7 309.7 370.3 C308.1 372.9 305.2 376.1 303.4 378.2 C301.6 380.3 300.5 382.6 298.7 382.9 C296.9 383.1 293.7 381.5 292.4 379.7 C291.1 377.9 290.3 374.2 290.8 371.8 C291.3 369.4 293.7 367.3 295.5 365.5 C297.3 363.7 301.0 363.4 301.8 360.8 C302.6 358.2 300.3 353.4 300.3 349.7 C300.3 346.0 300.5 341.1 301.8 338.7Z" fill="#d1e5f0"/>
<path d="M323.9 345 C324.4 344.2 326.6 344.2 327.1 345 C327.6 345.8 327.6 348.9 327.1 349.7 C326.6 350.5 324.4 350.5 323.9 349.7 C323.4 348.9 323.4 345.8 323.9 345Z" fill="#d1e5f0"/>
<path d="M300.3 324.5 C300.8 323.7 302.9 323.7 303.4 324.5 C303.9 325.3 303.9 328.4 303.4 329.2 C302.9 330.0 300.8 330.0 300.3 329.2 C299.8 328.4 299.8 325.3 300.3 324.5Z" fill="#d1e5f0"/>
<path d="M409.8 304 C410.3 303.1 413.3 302.6 414.2 302.9 C415.1 303.2 415.7 304.8 415.2 305.7 C414.7 306.6 412.3 308.8 411.4 308.5 C410.5 308.2 409.3 304.9 409.8 304Z" fill="#d1e5f0"/>
<path d="M108.5 83.1 C109.3 82.5 111.8 82.2 113.1 82.6 C114.4 83.0 116.2 84.4 116.6 85.4 C117.0 86.4 116.4 88.0 115.4 88.5 C114.4 89.0 112.0 88.6 110.8 88.2 C109.6 87.8 108.6 87.1 108.2 86.2 C107.8 85.3 107.7 83.7 108.5 83.1Z" fill="#ef8a62"/>
<path d="M103.1 95.4 C104.3 95.4 106.2 98.3 108.5 98.5 C110.8 98.7 115.3 96.4 116.9 96.5 C118.5 96.6 119.0 98.1 118 99.2 C117.0 100.3 112.9 102.1 110.8 103.1 C108.7 104.0 107.0 104.9 105.4 104.9 C103.9 104.9 102.2 104.2 101.5 103.1 C100.8 102.0 100.9 99.8 101.2 98.5 C101.5 97.2 101.9 95.4 103.1 95.4Z" fill="#ef8a62"/>
<path d="M153.2 108.2 C153.9 107.6 156.1 107.3 156.9 107.7 C157.7 108.1 158.1 110.0 157.8 110.8 C157.6 111.6 156.2 112.7 155.4 112.8 C154.6 112.9 153.3 112.0 152.9 111.2 C152.5 110.4 152.5 108.8 153.2 108.2Z" fill="#ef8a62"/>
<path d="M100.5 100 C102.3 101.4 106.0 105.9 108 108.6 C110.0 111.3 112.3 114.0 112.3 116.2 C112.3 118.4 108.0 119.7 108 121.5 C108.0 123.3 112.5 125.1 112.3 126.9 C112.1 128.7 108.0 130.2 106.9 132.3 C105.8 134.5 106.9 138.0 105.8 139.8 C104.7 141.6 102.1 141.5 100.5 143.1 C98.9 144.7 97.5 147.7 96.2 149.5 C94.9 151.3 95.1 152.5 92.9 153.8 C90.7 155.1 85.7 156.6 83.2 157.1 C80.7 157.6 78.7 163.0 77.8 157.1 C76.9 151.2 76.0 129.6 77.8 121.5 C79.6 113.4 85.4 112.2 88.6 108.6 C91.8 105.0 95.2 101.4 97.2 100 C99.2 98.6 98.7 98.6 100.5 100Z" fill="#ef8a62"/>
<path d="M113.4 154.9 C114.1 153.8 116.2 153.2 117 153.8 C117.8 154.4 118.5 156.8 118.3 158.2 C118.0 159.6 116.4 162.2 115.5 162.5 C114.6 162.8 113.0 161.6 112.7 160.3 C112.4 159.0 112.7 156.0 113.4 154.9Z" fill="#ef8a62"/>
<path d="M102.6 157.1 C103.1 156.3 105.8 155.9 106.5 156.6 C107.2 157.2 107.4 160.2 106.9 161 C106.4 161.8 104.0 162.2 103.3 161.6 C102.6 160.9 102.1 157.9 102.6 157.1Z" fill="#ef8a62"/>
<path d="M118.8 119.4 C119.3 118.9 121.5 118.9 122 119.4 C122.5 119.9 122.5 122.1 122 122.6 C121.5 123.1 119.3 123.1 118.8 122.6 C118.3 122.1 118.3 119.9 118.8 119.4Z" fill="#ef8a62"/>
<path d="M123.1 126.3 C123.5 125.8 125.3 125.8 125.7 126.3 C126.1 126.8 126.1 128.6 125.7 129.1 C125.3 129.6 123.5 129.6 123.1 129.1 C122.7 128.6 122.7 126.8 123.1 126.3Z" fill="#ef8a62"/>
<path d="M119.2 119.2 C119.7 118.6 121.8 118.8 122.3 119.5 C122.8 120.2 122.8 122.5 122.3 123.1 C121.8 123.7 120.0 123.8 119.5 123.1 C119.0 122.4 118.7 119.8 119.2 119.2Z" fill="#ef8a62"/>
<path d="M78 155.5 L118.2 167.7 L115 174 L108.5 180 L104 184.5 L106.3 191 L111.7 196.3 L110.6 203 L106 206 L107 210 L112 211 L116 214.6 L122.5 211.4 L131 213.5 L140.8 219 L139.7 231.8 L146 236 L155.8 239.4 L159 242.6 L161 244 L172 246 L189 247 L206 250.4 L205.5 262 L205 272 L201 272 L199 266.5 L197.8 268.7 L196 270 L192 273 L187 275 L184 269 L185 264 L179 259.8 L171 262 L164.6 265 L158 273.8 L152.6 271 L151.5 265 L154.6 260.8 L158 254.4 L153.7 255.5 L151.5 253.3 L149.4 266.5 L147.2 261.2 L141.8 256.8 L136.5 260 L134.3 268.7 L129 274 L123.5 266.5 L122.5 258 L119.2 249.3 L111.7 250.4 L110.6 255.8 L103 256.8 L97.7 258 L92.3 256.8 L85 252 L75 200 L70 175Z" fill="#ef8a62"/>
<path d="M135.4 274.1 C136.2 272.3 138.3 271.4 139.7 271.9 C141.1 272.4 143.1 275.1 143.6 277.3 C144.1 279.5 143.7 283.0 142.9 284.8 C142.1 286.6 139.9 288.5 138.6 288.1 C137.3 287.8 135.5 285.0 135 282.7 C134.5 280.4 134.6 275.9 135.4 274.1Z" fill="#ef8a62"/>
<path d="M114.9 193.1 C115.5 192.4 118.0 192.8 118.6 193.7 C119.1 194.6 118.8 197.8 118.2 198.5 C117.6 199.2 115.6 198.7 115.1 197.8 C114.5 196.9 114.3 193.8 114.9 193.1Z" fill="#ef8a62"/>
<path d="M179.5 231.8 C180.2 231.2 183.2 231.6 183.8 232.3 C184.5 233.0 184.1 235.6 183.4 236.2 C182.7 236.8 180.5 236.4 179.8 235.7 C179.2 235.0 178.8 232.4 179.5 231.8Z" fill="#ef8a62"/>
<path d="M173.1 235.1 C173.6 234.7 175.8 235.0 176.3 235.5 C176.8 236.0 176.4 237.9 175.9 238.3 C175.4 238.7 173.8 238.4 173.3 237.9 C172.8 237.4 172.6 235.5 173.1 235.1Z" fill="#ef8a62"/>
<path d="M224.1 266.9 C224.7 265.9 228.4 265.6 229.5 266.2 C230.6 266.8 231.0 269.5 230.4 270.5 C229.8 271.5 226.9 272.6 225.8 272 C224.8 271.4 223.5 267.9 224.1 266.9Z" fill="#ef8a62"/>
<path d="M290.6 132 C291.5 131.1 294.0 130.2 296.6 129.8 C299.2 129.4 304.7 129.2 306.3 129.8 C307.9 130.4 307.0 132.3 306.3 133.5 C305.6 134.7 303.8 136.2 302 136.7 C300.2 137.2 297.3 136.6 295.5 136.3 C293.7 136.0 292.0 135.7 291.2 135 C290.4 134.3 289.7 132.9 290.6 132Z" fill="#ef8a62"/>
<path d="M302 139.9 C302.6 139.4 305.2 139.1 305.9 139.5 C306.6 139.9 306.9 141.6 306.3 142.1 C305.7 142.6 303.1 143.1 302.4 142.7 C301.7 142.3 301.4 140.4 302 139.9Z" fill="#ef8a62"/>
<path d="M250.3 200.5 C251.1 199.5 253.3 198.8 254.6 199 C255.8 199.2 257.4 200.4 257.8 201.6 C258.2 202.8 257.7 204.8 256.8 205.9 C255.9 207.0 253.7 208.3 252.5 208.1 C251.3 207.9 250.3 206.1 249.9 204.8 C249.5 203.5 249.5 201.5 250.3 200.5Z" fill="#ef8a62"/>
<path d="M251.4 216.7 C252.8 215.0 256.6 213.2 258.9 212.8 C261.2 212.4 263.2 213.3 265.4 214.5 C267.5 215.7 270.2 218.8 271.8 219.9 C273.4 221.0 273.8 219.7 275.1 221 C276.4 222.3 278.9 225.3 279.4 227.5 C279.9 229.7 279.4 232.7 278.3 233.9 C277.2 235.2 274.7 235.3 272.9 235 C271.1 234.7 269.3 233.1 267.5 231.8 C265.7 230.6 264.0 228.1 262.2 227.5 C260.4 226.9 258.1 227.6 256.8 228.5 C255.5 229.4 254.1 231.0 254.6 232.8 C255.1 234.6 258.9 237.1 260 239.3 C261.1 241.5 261.8 244.4 261.1 245.8 C260.4 247.2 257.7 247.9 255.7 247.9 C253.7 247.9 250.6 247.1 249.2 245.8 C247.8 244.6 247.8 242.4 247.1 240.4 C246.4 238.4 244.7 235.9 244.9 233.9 C245.1 231.9 247.3 230.3 248.2 228.5 C249.1 226.7 249.8 225.2 250.3 223.2 C250.8 221.2 250.0 218.4 251.4 216.7Z" fill="#ef8a62"/>
<path d="M214.8 216.7 C215.4 216.0 218.4 215.6 219.1 216 C219.8 216.4 219.7 218.7 219.1 219.3 C218.5 220.0 216.1 220.3 215.4 219.9 C214.7 219.5 214.2 217.3 214.8 216.7Z" fill="#ef8a62"/>
<path d="M226.6 212 C227.1 211.4 229.3 210.9 229.8 211.3 C230.3 211.7 230.3 213.9 229.8 214.5 C229.3 215.1 227.1 215.4 226.6 215 C226.1 214.6 226.1 212.6 226.6 212Z" fill="#ef8a62"/>
<path d="M215.4 231.8 C215.9 231.4 217.9 233.0 219.1 233.9 C220.2 234.8 221.2 236.3 222.3 237.2 C223.4 238.1 224.8 238.1 225.5 239.3 C226.2 240.6 227.1 243.3 226.6 244.7 C226.1 246.1 223.6 247.7 222.3 247.9 C221.1 248.1 219.8 247.1 219.1 245.8 C218.4 244.6 218.6 242.0 218 240.4 C217.4 238.8 216.2 237.5 215.8 236.1 C215.4 234.7 214.9 232.2 215.4 231.8Z" fill="#ef8a62"/>
<path d="M240.6 243.6 C241.5 242.5 243.9 240.8 244.9 241.5 C245.9 242.2 246.4 246.1 246.4 247.9 C246.4 249.7 245.9 251.5 244.9 252.2 C243.9 252.9 241.5 252.9 240.6 252.2 C239.7 251.5 239.5 249.3 239.5 247.9 C239.5 246.5 239.7 244.7 240.6 243.6Z" fill="#ef8a62"/>
<path d="M228.8 246.8 C229.8 246.2 234.1 245.5 235.2 245.8 C236.3 246.1 236.2 248.0 235.2 248.6 C234.2 249.2 230.3 249.7 229.2 249.4 C228.1 249.1 227.8 247.4 228.8 246.8Z" fill="#ef8a62"/>
<path d="M218 251.2 C218.4 250.5 220.5 251.3 221.2 252.2 C221.8 253.1 222.3 255.8 221.9 256.5 C221.5 257.2 219.2 257.4 218.6 256.5 C217.9 255.6 217.6 251.9 218 251.2Z" fill="#ef8a62"/>
<path d="M330.5 101.5 L383.9 101.5 L382.8 116.5 L371 125.2 L362 134.8 L361.3 141.3 L357 144.5 L352.7 149.9 L347.3 148.8 L341.9 145.6 L337.6 138.1 L333.3 129.5 L331.4 118.7 L330.7 110.1Z" fill="#ef8a62"/>
<path d="M361.3 135.9 C360.8 134.3 359.4 130.5 363.5 127.3 C367.6 124.1 379.1 117.2 386.1 116.5 C393.1 115.8 397.2 121.9 405.5 123 C413.8 124.1 430.6 120.5 435.6 123 C440.6 125.5 438.5 135.0 435.6 138.1 C432.7 141.2 422.7 140.8 418.4 141.3 C414.1 141.8 412.1 140.4 409.8 141.3 C407.5 142.2 405.7 145.0 404.4 146.7 C403.1 148.4 403.3 151.4 402.2 151.4 C401.1 151.4 400.2 148.4 397.9 146.7 C395.6 145.0 391.2 142.9 388.2 141.3 C385.1 139.7 382.1 138.1 379.6 137 C377.1 135.9 375.4 134.8 373.2 134.8 C371.0 134.8 368.7 136.8 366.7 137 C364.7 137.2 361.8 137.5 361.3 135.9Z" fill="#ef8a62"/>
<path d="M383.5 153.2 C384.3 152.1 387.1 151.6 388.2 152.1 C389.3 152.6 390.6 155.2 390.4 156.4 C390.2 157.7 388.3 159.2 387.2 159.6 C386.1 159.9 384.1 159.6 383.5 158.5 C382.9 157.4 382.7 154.3 383.5 153.2Z" fill="#ef8a62"/>
<path d="M404 150 L399 155.3 L393.6 157.5 L391.5 164 L390.4 172.5 L386 175.8 L385 180 L389.3 183.3 L391.5 187.6 L395.4 195.2 L405 200.6 L414.8 201.7 L427.7 202.8 L431 207 L430.8 211 L431.8 216.5 L437.2 222 L441.5 218.7 L445.8 224 L450.2 227.3 L455.5 225 L459.8 223 L466.3 218.7 L471.7 223 L468.5 230.5 L472.8 237 L470.6 243.5 L464.2 245.6 L461 252 L463 256.4 L459.8 259.6 L457.7 264 L458.8 267 L466.3 259.6 L470.6 257.5 L472.8 261.8 L471.7 266 L476 269.3 L482.5 272.5 L485.7 278 L492.2 281 L497.5 276.8 L498.6 270.4 L506 269.3 L511.5 264 L512.6 257.5 L517 251 L521.2 247.8 L540 245 L600 150 L600 80 L430 80 L425 142 L412 142Z" fill="#ef8a62"/>
<path d="M423.2 209 C424.1 208.0 427.4 207.4 428.6 207.9 C429.8 208.4 430.7 210.9 430.3 212.2 C429.9 213.5 427.7 215.2 426.5 215.5 C425.3 215.8 423.6 215.1 423 214 C422.4 212.9 422.3 210.0 423.2 209Z" fill="#ef8a62"/>
<path d="M377.5 192 C377.9 191.6 379.2 191.6 379.6 192 C380.0 192.4 380.0 194.0 379.6 194.4 C379.2 194.8 377.9 194.8 377.5 194.4 C377.1 194.0 377.1 192.4 377.5 192Z" fill="#ef8a62"/>
<path d="M407.6 223.2 C408.1 222.7 410.3 223.1 410.8 223.7 C411.3 224.2 411.3 226.0 410.8 226.5 C410.3 227.0 408.5 227.1 408 226.5 C407.5 225.9 407.1 223.7 407.6 223.2Z" fill="#ef8a62"/>
<path d="M422.7 237.2 C423.2 236.6 425.4 236.6 425.9 237.2 C426.4 237.8 426.4 239.9 425.9 240.5 C425.4 241.1 423.2 241.1 422.7 240.5 C422.2 239.9 422.2 237.8 422.7 237.2Z" fill="#ef8a62"/>
<path d="M386.2 302.5 C387.0 301.6 389.7 301.1 391.5 301.4 C393.3 301.7 396.7 303.2 396.9 304.2 C397.1 305.2 394.3 306.8 392.6 307.2 C390.9 307.6 387.9 307.6 386.8 306.8 C385.7 306.0 385.4 303.4 386.2 302.5Z" fill="#ef8a62"/>
<path d="M417 325.1 C417.9 323.8 420.0 322.2 421.7 321.8 C423.4 321.4 426.4 322.0 427.1 322.9 C427.8 323.8 426.9 326.1 426 327.2 C425.1 328.3 422.9 328.5 421.7 329.4 C420.4 330.3 419.4 332.6 418.5 332.6 C417.6 332.6 416.6 330.6 416.3 329.4 C416.1 328.1 416.1 326.4 417 325.1Z" fill="#ef8a62"/>
<path d="M468 295.6 C468.4 294.8 470.3 295.4 470.8 296.4 C471.3 297.4 471.6 300.6 471.2 301.4 C470.8 302.2 469.1 302.4 468.6 301.4 C468.1 300.4 467.6 296.4 468 295.6Z" fill="#ef8a62"/>
<path d="M462.6 276.2 C463.1 275.8 465.3 275.8 465.8 276.2 C466.3 276.6 466.3 278.4 465.8 278.8 C465.3 279.2 463.1 279.2 462.6 278.8 C462.1 278.4 462.1 276.6 462.6 276.2Z" fill="#ef8a62"/>
<path d="M462.3 336.4 C462.9 335.5 464.7 334.5 465.8 334.7 C466.9 334.9 468.2 336.1 469.2 337.3 C470.2 338.5 470.6 341.5 471.8 341.6 C473.0 341.7 474.7 339.1 476.1 338.1 C477.5 337.2 478.8 336.0 480.4 335.9 C482.0 335.8 483.0 333.9 485.6 337.3 C488.2 340.7 493.1 351.1 496 356.3 C498.9 361.5 501.2 364.9 502.9 368.4 C504.6 371.8 505.8 374.4 506.4 377 C507.0 379.6 507.3 383.3 506.4 384.2 C505.5 385.1 502.4 383.7 501.2 382.2 C500.0 380.7 500.1 377.0 499.4 375.3 C498.7 373.6 498.0 372.5 496.9 371.8 C495.8 371.1 494.1 370.8 492.5 370.9 C490.9 371.0 489.3 372.8 487.4 372.7 C485.5 372.6 483.0 370.8 481.3 370.1 C479.6 369.4 478.3 369.3 477 368.4 C475.7 367.5 474.9 366.3 473.5 364.9 C472.1 363.4 469.4 361.7 468.4 359.7 C467.4 357.7 467.5 354.7 467.5 352.8 C467.5 350.9 467.8 349.6 468.4 348.5 C469.0 347.4 470.9 346.6 470.9 345.9 C470.9 345.2 469.5 344.6 468.4 344.2 C467.2 343.8 465.0 344.0 464 343.3 C463.0 342.6 462.6 341.0 462.3 339.9 C462.0 338.8 461.7 337.3 462.3 336.4Z" fill="#ef8a62"/>
<path d="M418.3 324.3 C419.3 322.9 422.7 323.2 424.3 323.5 C425.9 323.8 427.7 325.0 427.8 326 C427.9 327.0 426.2 328.5 425.2 329.5 C424.2 330.5 422.8 331.7 421.7 332.1 C420.6 332.5 418.9 333.4 418.3 332.1 C417.7 330.8 417.3 325.7 418.3 324.3Z" fill="#ef8a62"/>
<path d="M389.6 348.7 C390.8 348.1 395.1 348.0 396.5 348.7 C397.9 349.4 397.1 351.4 398.2 353 C399.3 354.6 403.0 357.1 403.4 358.2 C403.8 359.3 402.1 359.8 400.8 359.4 C399.5 359.0 397.0 356.0 395.6 355.6 C394.2 355.2 393.2 357.6 392.2 357 C391.2 356.4 390.0 353.6 389.6 352.2 C389.2 350.8 388.5 349.3 389.6 348.7Z" fill="#ef8a62"/>
<path d="M333.5 350.4 C334.4 349.2 336.4 348.3 337.8 348.7 C339.2 349.1 341.8 351.3 342.1 353 C342.4 354.7 340.6 357.2 339.5 359.1 C338.4 361.0 336.4 363.7 335.2 364.3 C334.0 364.9 332.5 363.9 332.1 362.5 C331.7 361.1 332.4 357.6 332.6 355.6 C332.8 353.6 332.6 351.5 333.5 350.4Z" fill="#ef8a62"/>
<path d="M492.8 377 C493.6 375.6 496.8 374.0 498.5 374.4 C500.2 374.8 502.1 377.0 503.2 379.6 C504.2 382.2 505.3 388.0 504.8 390.1 C504.3 392.2 501.7 392.5 500.1 392.2 C498.5 391.9 496.5 390.1 495.4 388.5 C494.3 386.9 494.0 384.7 493.6 382.8 C493.2 380.9 492.0 378.4 492.8 377Z" fill="#ef8a62"/>
<path d="M94 124.1 C94.9 122.6 98.0 122.3 99 123.3 C100.0 124.3 100.1 128.2 99.8 130.2 C99.5 132.2 98.3 135.2 97.2 135.5 C96.1 135.8 93.9 134.2 93.4 132.3 C92.9 130.4 93.1 125.6 94 124.1Z" fill="#fddbc7"/>
<path d="M88.6 137.7 C89.7 136.4 92.9 135.7 94 136.6 C95.1 137.5 95.6 141.2 95.1 143.1 C94.6 145.0 92.1 147.6 90.8 147.8 C89.5 148.0 87.9 145.9 87.5 144.2 C87.1 142.5 87.5 139.0 88.6 137.7Z" fill="#fddbc7"/>
<path d="M83.7 161.8 C84.8 159.8 89.8 159.9 91.2 160.8 C92.6 161.7 92.7 164.9 92.3 167.2 C91.9 169.5 90.3 173.9 89.1 174.8 C87.8 175.7 85.7 174.8 84.8 172.6 C83.9 170.4 82.6 163.8 83.7 161.8Z" fill="#fddbc7"/>
<path d="M92.3 202.8 C93.4 201.0 97.0 200.8 98.8 201.7 C100.6 202.6 102.2 206.0 103.1 208.2 C104.0 210.3 104.8 212.3 104.2 214.6 C103.7 216.9 100.7 219.9 99.8 222.2 C98.9 224.5 99.7 227.7 98.8 228.6 C97.9 229.5 95.0 229.1 94.5 227.5 C94.0 225.9 95.9 221.4 95.5 218.9 C95.1 216.4 92.8 215.2 92.3 212.5 C91.8 209.8 91.2 204.6 92.3 202.8Z" fill="#fddbc7"/>
<path d="M112.8 240.5 C113.5 239.8 116.5 240.0 117.1 240.9 C117.7 241.8 117.3 245.1 116.6 245.8 C115.9 246.6 113.6 246.3 113 245.4 C112.4 244.5 112.1 241.2 112.8 240.5Z" fill="#fddbc7"/>
<path d="M194.6 249 C196.4 248.3 204.6 249.2 206.5 250.5 C208.4 251.8 206.9 255.2 205.8 256.5 C204.7 257.8 201.7 258.6 200 258.3 C198.3 258.0 196.6 256.4 195.7 254.8 C194.8 253.2 192.8 249.7 194.6 249Z" fill="#fddbc7"/>
<path d="M333.3 120.4 C334.4 119.5 339.0 119.4 340.8 119.8 C342.6 120.2 344.1 121.9 344.1 123 C344.1 124.1 342.4 125.8 340.8 126.2 C339.2 126.6 335.6 126.2 334.4 125.2 C333.1 124.2 332.2 121.3 333.3 120.4Z" fill="#fddbc7"/>
<path d="M352.7 133.8 C353.3 132.4 355.9 131.1 357 131.6 C358.1 132.1 359.2 135.4 359.2 137 C359.2 138.6 358.0 140.8 357 141.3 C356.0 141.8 354.0 141.4 353.3 140.2 C352.6 138.9 352.1 135.2 352.7 133.8Z" fill="#fddbc7"/>
<path d="M439.4 206.8 C440.5 205.6 443.0 204.0 444.8 204 C446.6 204.0 449.5 205.4 450.2 206.8 C450.9 208.2 450.4 211.0 449.1 212.2 C447.8 213.4 444.4 214.2 442.6 214 C440.8 213.8 438.8 212.4 438.3 211.2 C437.8 210.0 438.3 208.0 439.4 206.8Z" fill="#fddbc7"/>
<path d="M477.1 259.6 C478.2 258.0 480.5 257.5 482.5 256.4 C484.5 255.3 487.5 252.7 488.9 253.2 C490.3 253.7 490.4 257.8 491.1 259.6 C491.8 261.4 493.8 262.6 493.2 263.9 C492.6 265.2 489.8 266.3 487.8 267.2 C485.8 268.1 483.4 269.5 481.4 269.3 C479.4 269.1 476.7 267.7 476 266.1 C475.3 264.5 476.0 261.2 477.1 259.6Z" fill="#fddbc7"/>
<path d="M514.8 254.2 C516.0 252.8 519.4 251.2 521.2 251.4 C523.0 251.6 525.1 253.2 525.5 255.3 C525.9 257.4 524.8 262.1 523.4 263.9 C522.0 265.7 518.5 266.8 516.9 266.1 C515.3 265.4 514.1 261.6 513.7 259.6 C513.4 257.6 513.5 255.6 514.8 254.2Z" fill="#fddbc7"/>
<path d="M502.1 225.7 C502.6 224.8 505.1 224.3 505.8 224.9 C506.5 225.5 507.0 228.5 506.5 229.4 C506.0 230.3 503.5 231.0 502.8 230.4 C502.1 229.8 501.6 226.6 502.1 225.7Z" fill="#fddbc7"/>
<path d="M497.7 231.6 C498.3 230.7 501.2 230.2 502.1 230.8 C503.0 231.4 503.4 234.4 502.8 235.3 C502.2 236.2 499.2 236.9 498.4 236.3 C497.5 235.7 497.1 232.5 497.7 231.6Z" fill="#fddbc7"/>
<path d="M515.1 145.3 C516.0 144.7 518.8 144.3 520.2 144.4 C521.6 144.5 522.9 145.1 523.3 145.9 C523.7 146.7 523.4 148.4 522.7 149.1 C522.0 149.8 520.1 150.0 518.9 150.3 C517.7 150.6 516.4 151.3 515.7 150.9 C515.0 150.5 515.0 148.7 514.9 147.8 C514.8 146.9 514.2 145.9 515.1 145.3Z" fill="#fddbc7"/>
<path d="M511.9 157.9 C512.5 156.8 514.2 156.9 515.1 157.3 C516.0 157.7 516.1 159.6 517 160.4 C517.9 161.2 519.1 161.8 520.2 162.3 C521.4 162.8 523.1 162.8 523.9 163.6 C524.7 164.4 525.5 166.6 525.2 167.4 C524.9 168.2 523.2 168.5 522.1 168.6 C521.0 168.7 520.0 167.8 518.9 168 C517.8 168.2 516.8 169.3 515.7 169.9 C514.7 170.5 514.0 171.4 512.6 171.8 C511.2 172.2 508.6 172.7 507.5 172.4 C506.4 172.1 506.0 170.6 506.3 169.9 C506.6 169.2 508.6 168.9 509.4 168 C510.2 167.1 510.9 165.9 511.3 164.2 C511.7 162.5 511.3 159.1 511.9 157.9Z" fill="#fddbc7"/>
<path d="M514.8 185.9 C515.1 185.3 516.5 185.3 516.8 185.9 C517.1 186.5 517.1 189.0 516.8 189.6 C516.5 190.2 515.1 190.2 514.8 189.6 C514.5 189.0 514.5 186.5 514.8 185.9Z" fill="#f5f5f5"/>
<path d="M99.1 106.3 C99.4 105.6 100.9 106.2 101.2 106.9 C101.5 107.6 101.2 109.6 100.9 110.3 C100.6 111.0 99.4 111.6 99.1 110.9 C98.8 110.2 98.8 107.0 99.1 106.3Z" fill="#b2182b"/>
<path d="M78.3 186.2 C78.9 185.6 81.0 185.9 81.5 186.6 C82.0 187.3 81.7 189.9 81.1 190.5 C80.5 191.1 78.6 190.8 78.1 190.1 C77.6 189.4 77.7 186.8 78.3 186.2Z" fill="#b2182b"/>
<path d="M546.9 92.7 C547.9 91.0 548.7 93.8 550 93.5 C551.3 93.2 552.9 91.2 554.6 91.2 C556.3 91.2 558.4 90.7 560 93.5 C561.6 96.3 563.8 105.3 564.2 108.1 C564.6 110.9 563.4 110.2 562.3 110.4 C561.2 110.7 559.1 109.6 557.7 109.6 C556.3 109.6 554.8 109.8 553.8 110.4 C552.8 111.1 552.1 112.5 551.5 113.5 C550.9 114.5 550.8 116.1 550 116.5 C549.2 116.9 547.5 116.8 546.9 115.8 C546.3 114.8 546.7 112.5 546.2 110.4 C545.8 108.4 544.1 106.5 544.2 103.5 C544.3 100.5 545.9 94.4 546.9 92.7Z" fill="#b2182b"/>
<path d="M443 173.5 L445.9 170.6 L448.4 171.2 L449.2 175.4 L447.6 178 L446.3 182.8 L444 182.8 L443.3 177.9Z" fill="#b2182b"/>
<path d="M470.4 352.8 C471.1 351.6 473.6 351.5 475.3 351.6 C477.0 351.8 478.8 352.8 480.4 353.7 C482.0 354.6 483.8 355.7 484.8 357.1 C485.8 358.5 486.5 360.7 486.5 362.3 C486.5 363.9 485.8 365.5 484.8 366.6 C483.8 367.7 482.0 368.6 480.4 368.7 C478.8 368.8 476.6 368.3 475.3 367.5 C474.0 366.7 473.4 365.4 472.7 364 C472.0 362.6 471.5 360.8 471.1 358.9 C470.7 357.0 469.7 354.0 470.4 352.8Z" fill="#b2182b"/>
<path d="M507.3 195.5 L510.2 194 L512.7 194.7 L513.2 198.4 L511.7 202.1 L513.2 204.3 L512.4 208 L509.5 209.5 L508 212.7 L507 210.2 L508.7 205.8 L506.5 203.6 L503.6 202.1 L502.1 200.6 L504.3 199.9 L506.5 198.4Z" fill="#b2182b"/>
<path d="M494 202.4 L495.3 202.1 L495.6 205.3 L493.7 205.8Z" fill="#b2182b"/>
<path d="M523.9 135.2 L532.2 134.5 L533.4 138.9 L534.7 142.1 L533.4 147.2 L534.7 150.9 L532.2 152.2 L530.3 148.4 L529.6 143.4 L527.1 141.5 L524.6 139.6Z" fill="#b2182b"/>
<path d="M535.3 140.8 L537.2 142.1 L538.5 145.9 L538.1 149.7 L535.9 151.6 L534.7 147.2Z" fill="#b2182b"/>
<path d="M541 138.9 L543.5 139.2 L543.5 141 L541.1 141Z" fill="#b2182b"/>
<path d="M540.4 150.3 L544.8 148.8 L546.1 150.9 L542.9 153.9 L540.4 153.1Z" fill="#b2182b"/>
<path d="M536.6 156.6 L539.7 155.6 L542.3 157.9 L541 160.7 L538.1 160.2Z" fill="#b2182b"/>
<path d="M547.9 154.1 L549.8 154.1 L549.8 156 L547.9 156Z" fill="#b2182b"/>
<path d="M519.5 132.6 L521.4 132.6 L521.4 134.5 L519.5 134.5Z" fill="#b2182b"/>
<path d="M522.7 172.4 L525.8 172.4 L525.8 175.6 L522.7 175.6Z" fill="#b2182b"/>
<path d="M548.9 95.5 L551.2 96.2 L553.4 94.5 L554.5 98.5 L551.8 101.5 L549.2 100.7Z" fill="#ef8a62"/>
<path d="M336.5 116.1 C337.3 115.6 341.0 115.1 341.9 115.5 C342.8 115.9 342.7 117.8 341.9 118.3 C341.1 118.8 337.9 119.1 337 118.7 C336.1 118.3 335.7 116.6 336.5 116.1Z" fill="#a5a5a5"/>
<path d="M348.4 139.8 C348.8 139.4 350.1 139.4 350.5 139.8 C350.9 140.2 350.9 141.6 350.5 142 C350.1 142.4 348.8 142.4 348.4 142 C348.0 141.6 348.0 140.2 348.4 139.8Z" fill="#a5a5a5"/>
<path d="M491.7 373.9 C492.3 373.4 494.4 372.8 495.1 373.2 C495.8 373.6 496.3 375.3 496 376.1 C495.7 376.9 494.2 377.9 493.4 377.9 C492.6 377.9 491.6 376.8 491.3 376.1 C491.0 375.4 491.1 374.4 491.7 373.9Z" fill="#a5a5a5"/>
<path d="M388.7 344.9 C389.0 344.1 391.2 343.5 392.2 343.5 C393.2 343.5 394.5 344.2 394.8 344.9 C395.1 345.6 394.9 347.0 394.2 347.5 C393.5 348.0 391.3 348.4 390.4 348 C389.5 347.6 388.4 345.6 388.7 344.9Z" fill="#a5a5a5"/>
</g>
<path d="M100.9 77.6 L104 79.5 L108 80.5 L111 80.5 L114.5 81.5 L114.8 87 L116.3 87 L117 80 L118.6 74 L163 85.3 L169.8 86.8 L190 91.1 L200 92.8 L228.8 98.7 L265.4 102.5 L293.4 105 L320.3 106 L337.2 105.6 L337.2 100.7 L339.8 100.7 L340.9 107.8 L352.3 110.6 L357.7 110 L364.2 116.4 L371.7 113.6 L381 116.6 L400 115 L420 122 L426 127 L431 132 L435 136 L442 140 L452 150 L452.5 165 L449 176.6 L447.2 180.4 L447.5 185 L444.6 187.4 L446 189.8 L462 182 L475 175 L480 170.5 L479 166 L480 161 L492 154 L500.3 148.5 L503 140.7 L510 134.7 L521 132.3 L537.2 128.2 L539.4 124 L543.7 117.5 L544.8 104.5 L548 92.7 L551 93.3 L555.5 90.5 L560.3 93.3 L564.2 110 L571.7 115.3 L574.5 118.5 L571.7 122.8 L562 129.3 L558.8 133.6 L555.5 138 L551 145.5 L549 149.8 L549.5 153 L551.5 155.5 L549.5 158.5 L550 161.5 L553 165.5 L557 166 L558.5 163.5 L557.7 161.8 L559.8 163 L560 166 L556 169 L552 169.5 L549 171.5 L545.8 175.8 L538 179 L529.7 182.3 L528.6 188.8 L530 194.7 L527.9 203.6 L524.2 211 L519.8 208 L516.8 205 L515.4 203.5 L517.5 206 L519.8 209.5 L524.2 213 L524.2 218 L522 225.7 L519.8 234.5 L519 240.4 L517.6 234.5 L516.8 227.2 L514.6 222.7 L513.2 216.8 L511.7 211.7 L512.4 207.3 L510.5 207.5 L510.2 211.7 L511.7 218.3 L513.2 224.2 L514.6 230 L516 236 L517.6 240.4 L519.8 244.8 L522 243.4 L522 245 L525.4 253.6 L522 263.3 L516.8 266.5 L509 275 L503.8 283.8 L500.6 284.8 L496.3 294.5 L488.8 302 L482.3 308.5 L479 316 L478 324.7 L479 330 L482.8 339.4 L489.2 350 L494.6 361 L500 371.7 L502.8 382.5 L502 393.2 L496.8 397.5 L494.6 396.5 L487 389 L481.7 380.3 L476.3 373.8 L471 366.3 L469.8 356.6 L464.5 349 L458 343.7 L449.4 341.5 L445 347 L439.5 342.6 L432 339.4 L419 339.4 L414.8 341.5 L409.4 341.8 L399 345 L398.7 347.9 L397.7 349.6 L398.6 353 L403.4 357.9 L401.2 359.4 L396.5 356.2 L392.5 357.4 L390.5 356.8 L387 358.6 L380 357.4 L375 354.3 L369.7 354.8 L361 353 L353.3 353 L343.7 355.5 L337.2 362 L328.6 368.5 L319.2 373.8 L315 382.5 L317 391 L315 401.8 L304 398.6 L296.6 393.2 L292.3 382.5 L284.8 369.5 L279.4 358.8 L273 350.6 L265.4 349.7 L260 352.3 L254.6 359.8 L248 355.5 L241.7 349 L238.5 338.3 L231 329.7 L223.4 320 L222.3 319.3 L206 319.3 L205 323.6 L197.5 323 L177.4 320.4 L143 296.3 L118.6 292 L117 283.8 L111.7 275 L106.3 266.5 L98.8 260 L92.3 256.8 L90.2 245 L88 240.5 L85.8 231.8 L84.8 216.8 L81.5 208 L80.5 199.5 L78.3 186.6 L76.2 175.8 L78.3 171 L80 166.5 L81.8 160 L82.9 155.3 L83.5 149 L84.8 142.6 L88 137 L90.8 131.6 L93 126 L95.5 119 L97.5 113 L99.8 105.6Z M529.7 188.8 L534 185 L540 181.5 L544.8 178 L545 179.5 L540 183.5 L534 187.5 L530.5 190Z" fill="none" stroke="#111" stroke-width="0.95" stroke-linejoin="round"/>
<path d="M362.8 134.4 L367 129.5 L374 122.6 L381 116.6 L386 111.4 L390.4 108 L393 102.8 L397.3 103.6 L406.8 103.6 L410.3 107 L412.9 112.3 L419.8 113 L421.5 119.2 L425 122.6 L425.8 128.7 L428.4 130.4 L431 132 L426.7 132 L421.5 128.7 L417.2 129.5 L412 132 L406.8 132 L401.6 128.7 L397.3 127.3 L394.6 125.2 L398.2 122.3 L396.6 120.8 L391 125.3 L389.8 127.8 L387 129.5 L381 132 L377.5 133.9 L374.9 131.3 L373 132 L369.7 132 L365.4 133.9Z" fill="#a5a5a5"/>
<path d="M407.7 142.5 L413.7 139 L419.8 137.3 L424 138.2 L427.5 136.5 L429.8 135.8 L427 139 L424 140.8 L421.5 145 L421 150 L419 154 L415.4 159 L413.7 165.8 L414.6 172.7 L416.3 177 L416.5 183 L415.8 189 L413 194 L409 196 L405.5 193.5 L403.5 188 L403 183 L403.4 177 L402.5 171 L401.6 164 L402.5 159 L405 152 L407.7 145 L406 147.7 L402.5 153.7 L400.5 158 L399 158 L400.8 152.9 L404.2 146.8 L406.8 143.4Z" fill="#a5a5a5"/>
<path d="M426.9 134.7 L427.8 133 L433.8 133.8 L440.7 132.4 L450.2 133 L457 133.8 L461.5 137.3 L465.8 142.5 L469.3 145 L468 148.2 L460.4 150 L457.9 149.5 L454 143 L451.6 143.8 L454 146 L454.7 152.6 L454 160.2 L453.5 166.5 L451 171.6 L449 176.6 L447.8 170.3 L445.9 164 L444 160.8 L442 161.5 L439 165.3 L436.4 166.5 L434.5 164 L437 161.5 L438.3 157.7 L439 151.4 L435.2 146.3 L430 142.5 L427 139.5 L429.8 135.8Z" fill="#a5a5a5"/>
<path d="M442.7 189.9 L447.2 187.4 L451.6 185.5 L456.6 180.4 L461.7 176.6 L468 174.7 L474.3 171.6 L480 168.4 L480 172.2 L475.6 176.6 L470.5 181 L464.2 185.5 L457.9 190.5 L452 192.5 L446.5 193Z" fill="#a5a5a5"/>
<path d="M471.8 164 L471.8 162.3 L475.3 158.9 L482.2 153.7 L489 150.2 L496 148.5 L500.3 148.5 L501.2 152.8 L498.6 157.1 L492.5 160.6 L485.6 163.2 L477 165.8Z" fill="#a5a5a5"/>
<path d="M449 176.6 L450 177 L448.4 181 L449.7 183.6 L449 186.7 L445.5 188.5 L443.5 189.5 L443.8 187.5 L445.3 183 L447.2 180.4Z" fill="#a5a5a5"/>
<g clip-path="url(#usclip)">
<path d="M362.8 134.4 L367 129.5 L374 122.6 L381 116.6 L386 111.4 L390.4 108 L393 102.8 L397.3 103.6 L406.8 103.6 L410.3 107 L412.9 112.3 L419.8 113 L421.5 119.2 L425 122.6 L425.8 128.7 L428.4 130.4 L431 132 L426.7 132 L421.5 128.7 L417.2 129.5 L412 132 L406.8 132 L401.6 128.7 L397.3 127.3 L394.6 125.2 L398.2 122.3 L396.6 120.8 L391 125.3 L389.8 127.8 L387 129.5 L381 132 L377.5 133.9 L374.9 131.3 L373 132 L369.7 132 L365.4 133.9Z" fill="none" stroke="#111" stroke-width="1.2" stroke-linejoin="round"/>
<path d="M407.7 142.5 L413.7 139 L419.8 137.3 L424 138.2 L427.5 136.5 L429.8 135.8 L427 139 L424 140.8 L421.5 145 L421 150 L419 154 L415.4 159 L413.7 165.8 L414.6 172.7 L416.3 177 L416.5 183 L415.8 189 L413 194 L409 196 L405.5 193.5 L403.5 188 L403 183 L403.4 177 L402.5 171 L401.6 164 L402.5 159 L405 152 L407.7 145 L406 147.7 L402.5 153.7 L400.5 158 L399 158 L400.8 152.9 L404.2 146.8 L406.8 143.4Z" fill="none" stroke="#111" stroke-width="1.2" stroke-linejoin="round"/>
<path d="M426.9 134.7 L427.8 133 L433.8 133.8 L440.7 132.4 L450.2 133 L457 133.8 L461.5 137.3 L465.8 142.5 L469.3 145 L468 148.2 L460.4 150 L457.9 149.5 L454 143 L451.6 143.8 L454 146 L454.7 152.6 L454 160.2 L453.5 166.5 L451 171.6 L449 176.6 L447.8 170.3 L445.9 164 L444 160.8 L442 161.5 L439 165.3 L436.4 166.5 L434.5 164 L437 161.5 L438.3 157.7 L439 151.4 L435.2 146.3 L430 142.5 L427 139.5 L429.8 135.8Z" fill="none" stroke="#111" stroke-width="1.2" stroke-linejoin="round"/>
<path d="M442.7 189.9 L447.2 187.4 L451.6 185.5 L456.6 180.4 L461.7 176.6 L468 174.7 L474.3 171.6 L480 168.4 L480 172.2 L475.6 176.6 L470.5 181 L464.2 185.5 L457.9 190.5 L452 192.5 L446.5 193Z" fill="none" stroke="#111" stroke-width="1.2" stroke-linejoin="round"/>
<path d="M471.8 164 L471.8 162.3 L475.3 158.9 L482.2 153.7 L489 150.2 L496 148.5 L500.3 148.5 L501.2 152.8 L498.6 157.1 L492.5 160.6 L485.6 163.2 L477 165.8Z" fill="none" stroke="#111" stroke-width="1.2" stroke-linejoin="round"/>
<path d="M449 176.6 L450 177 L448.4 181 L449.7 183.6 L449 186.7 L445.5 188.5 L443.5 189.5 L443.8 187.5 L445.3 183 L447.2 180.4Z" fill="none" stroke="#111" stroke-width="1.2" stroke-linejoin="round"/>
</g>
<path d="M436 136.6 L441 135.3 L449.5 135.3 L449.8 136.8 L444.2 137.8 L438 137.8Z" fill="#dcdcdc"/>
<path d="M178 185.5 L180.6 184.5 L183.2 186.6 L184.9 189.8 L187.1 192 L186.6 196.3 L183.8 197.8 L181.7 196.3 L180.2 192 L178 189.8Z" fill="#a5a5a5"/>
<path d="M117 76 L118.5 80 L117 84 L118.5 87 L114 91 L111 95 L113 96.5 L116.5 93 L117.5 89 L116 86" fill="none" stroke="#111" stroke-width="1.3" stroke-linejoin="round"/>
<path d="M82 208.5 L85 209.5 L88 208.5 L91.5 211 L93 212 M86 210 L86.5 214 L85 217 M92.3 265.8 L99.8 267.2 M105.5 276.5 L108 279.2 M105.5 283 L107 285.8" fill="none" stroke="#111" stroke-width="1" stroke-linejoin="round"/>
<path d="M163 85.3 L156.3 122.3 M99.8 105.6 L103 106.2 L108.2 109.5 L109.5 113 L110.5 115.8 L115 116.3 L119.2 117.4 L122.4 119 L130 118.6 L138.2 119 L147 120.5 L156.3 122.3 M156.3 122.3 L158.7 126 L157.9 129.2 L154 135.5 L150.8 141 L152.4 147.4 L149.2 149 L147.5 160 L145 172.6 M170.2 86.8 L168.1 99 L169.9 106.8 L173.3 112.8 L177.6 118.9 L178.5 122.3 L175.9 128.4 L175 132.7 L180.2 134.4 L182 140.4 L185.4 146.5 L186.3 150.8 L193 150.2 L200.1 150 L201 148.2 L201.6 151.5 M82.8 156.5 L118.2 167.7 L145 172.6 L169.8 179 L196.8 183.4 M202.7 145.6 L196.8 183.4 M196.8 183.4 L195.4 196.3 M202.7 145.6 L262.2 153.2 M118.2 167.7 L110.6 203.8 L149.4 266.5 M169.8 179 L160.2 242.6 L158 245 L157 253.6 L151.5 254.7 L149.4 266.5 M149.4 266.5 L152.6 277.3 L147.2 284.8 L144 291.3 L143 296.3 M160.2 242.6 L206 250.4 M206 250.4 L197.5 323 M195.4 196.3 L259 203.8 M212.6 200 L206 250.4 M265.8 102.8 L263.2 141.2 L262.2 153.2 L260 179 L259 203.8 L276 206.4 L275.7 219.4 M263.2 141.2 L324.6 144.4 M320.3 106 L322.5 126 L324.6 144.4 L327 150 L325.7 158 L326 175.4 M260 179 L307.4 182.3 L312.8 184.5 L320 184 L324.6 185.5 M326 175.4 L324.3 184.5 L327.5 193 L330.8 203.8 L333 213.5 L337.2 221 L339.4 223 L342.6 231.8 L343.3 259.6 M275.7 219.4 L337.2 221 M275.7 219.4 L274 245 L273 256.8 M206 250.4 L273 256.8 M264.3 258 L273 256.8 L343.3 259.6 M264.3 258 L263.2 264.4 L291.9 265.9 L291.2 290.2 L297.7 293.5 L302 294 L306.3 296.7 L311 298 L315 300 L321.4 300 L328 301 L335 300 L341.5 302 L345.8 303 M263.2 264.4 L259 321.5 L222.3 319.3 M326 175.4 L371.7 174.8 M362.8 134.4 L362 138.2 L358.5 142.5 L356.7 146.8 L357.6 153.7 L362 158 L368.8 165.8 L371.7 174.8 L375 182.3 L381.4 192 L382.5 197.4 L377 202.8 L373.8 210.3 L371.7 216.8 L372.8 223 L379.2 231.8 L384.6 235 L386.8 242.6 L386.8 245 L391 251.5 L395.4 255.8 L395.4 262.2 L394.3 263.3 L391 270.8 L387.8 280.5 L383.5 289 L380.3 298.8 L378.6 309.6 L380.3 319.3 L379.2 324.5 L376.6 331.5 L375.8 335.8 L394.8 335.8 L396.5 343.5 L398 345.5 M333 213.5 L368.5 212.5 L371.7 216.8 M379.2 187 L403 185.5 M377.5 133.9 L387 137.3 L393.9 140.8 L399 145 L401.6 150.3 L400.2 154.6 M406 196.3 L408.3 229.7 L407 236 L408.5 241 L405 245.8 M408.3 194.5 L430.7 192.3 L442.7 190.5 M430.7 192.3 L434 226.5 M395.4 255.8 L401.8 251.5 L405 245.8 L412.6 242.6 L421.2 239.4 L425.3 238.2 L428.7 233.9 L434.2 226 L439 228.7 L444.3 229.5 L451.2 228.7 L455.5 230.4 L458 226 L463.3 221 L466.7 214 L468.3 208 L468.3 201.7 L470.5 199.5 L468.3 184.5 L468.3 180 M470.5 199.5 L472.6 212.5 L480 211 L514.6 204.3 M474.3 177.9 L474.3 181.5 L514.6 174 L519.8 180 L517.6 187.4 L524.2 194.7 L519 200.6 L515.4 202.8 L514.6 204.3 M519.8 181.5 L528.6 188.3 M521 132.5 L522.5 138 L524.3 145.5 L527.5 150 L528.6 159.7 L529.7 169.4 L530.8 182.3 M537.2 128.2 L537.2 125 L535.5 134 L535 141 L536 150 L537.5 157 L550 155.4 M528.6 159.7 L537.5 157 M540.5 129.3 L544 140 L548 149.8 M529.7 169.4 L544.8 166 L549 164.5 M544.8 166 L545.8 175.8 M515 204.3 L516.8 219 L524.2 218 M482.2 211.5 L483 216.8 L486 213 L490.3 209.5 L494.7 208.7 L497.7 211.7 L502 214.6 L504.3 218.3 L505 222.7 L508 224.5 L511.7 228.6 L514.5 230.5 M504.3 218.3 L500 222 L496.3 224.3 L491 221 L488 224.2 L483 226.4 L480.5 231 L482.3 236 L475.8 242.6 L465 247 L461.5 242.5 L456.4 236.5 L455.5 230.4 M395.4 262.2 L430 259 L450 255.8 L463 253 L477 250 L521 242.5 M448.6 256.3 L456 249 L461.5 243 M387.8 283.8 L407.2 283.3 L432.4 280.5 L450 278 L457.8 277.3 M463 253 L460 266.5 L451.4 273 L450 278 M450 278 L454.3 277.3 L463 274 L478 273 L482.3 275 L491 277.3 L500.6 284.8 M454.3 277.3 L460.8 288 L469.4 298.8 L475.8 309.6 L479 316 M407.2 283.3 L407.5 320 L409.4 339.8 M432.4 280.5 L440.6 311.8 L442.8 320.4 L443.8 332.2 M417 341 L417 334 L443.8 332.2 L474 330.8 L476.3 327.5 L479 329 M343.3 259.6 L343.7 266.5 L345.8 303 L350 304 L350.8 310.7 L352.3 326.8 L354.5 335.5 L353.4 347 L352.3 353.4 M343.7 266.5 L391 264.4 L389 270.8 L394.3 270.4 M350.8 310.7 L378.6 309.6" fill="none" stroke="#111" stroke-width="0.85" stroke-linejoin="round"/>
</g>
<rect x="0" y="59.0" width="650" height="1" fill="#000" fill-opacity="0.11"/>
<rect x="0" y="408.7" width="650" height="1" fill="#000" fill-opacity="0.11"/>
<defs><clipPath id="lg"><circle cx="565.2" cy="295.2" r="22.7"/></clipPath></defs>
<g clip-path="url(#lg)"><circle cx="565.2" cy="295.2" r="22.7" fill="#0b95d9"/>
<path d="M545.736 283.315 L550.157 287.104 L555.21 292.788 L560.262 297.588 L565.315 299.735 L570.367 298.851 L574.156 294.683 L577.314 288.999 L580.472 283.947 L583.63 280.789 L589.314 280.157 L589.314 287.104 L587.798 287.736 L582.998 290.262 L577.946 295.946 L574.788 298.851 L576.809 298.725 L575.672 299.988 L571.63 301.883 L567.209 303.525 L558.115 304.788 L563.42 302.514 L560.262 300.998 L553.947 296.578 L547.631 292.157 L542.831 290.894 L540.052 290.262 L540.052 283.947Z" fill="#fff"/>
<path d="M545.7 283.3 C546.5 283.9 548.6 285.5 550.2 287.1 C551.7 288.7 553.5 291.0 555.2 292.8 C556.9 294.5 558.6 296.4 560.3 297.6 C561.9 298.7 563.6 299.5 565.3 299.7 C567.0 299.9 568.9 299.7 570.4 298.9 C571.8 298.0 573.0 296.3 574.2 294.7 C575.3 293.0 576.3 290.8 577.3 289.0 C578.4 287.2 579.4 285.3 580.5 283.9 C581.5 282.6 583.1 281.3 583.6 280.8 L592 278 L592 268 L538 268 L538 282 Z" fill="#0a4595"/>
</g>
<text x="564.7" y="288.0" font-size="8.4" font-weight="bold" fill="#fff" text-anchor="middle" textLength="19.2" lengthAdjust="spacingAndGlyphs">NOAA</text>
<text x="522.2" y="331.8" font-size="10.5" fill="#fff" textLength="86.5" lengthAdjust="spacingAndGlyphs">National Centers for</text>
<text x="534.5" y="342.6" font-size="10.5" fill="#fff" textLength="62" lengthAdjust="spacingAndGlyphs">Environmental</text>
<text x="541" y="353.40000000000003" font-size="10.5" fill="#fff" textLength="49" lengthAdjust="spacingAndGlyphs">Information</text>
<text x="204.5" y="16.6" font-size="22.5" fill="#000" textLength="243" lengthAdjust="spacingAndGlyphs">Mean Temperature Percentiles</text>
<text x="291" y="35.3" font-size="16" fill="#000" textLength="69" lengthAdjust="spacingAndGlyphs">August 2021</text>
<text x="266.9" y="52.8" font-size="12.3" fill="#000" textLength="117.5" lengthAdjust="spacingAndGlyphs">Ranking Period: 1895–2021</text>
<rect x="157.8" y="417.9" width="34.6" height="11.6" fill="#2166ac" stroke="#000" stroke-width="1"/>
<text x="0" y="443.8" font-size="11" fill="#2a2a2a" text-anchor="middle" transform="translate(175.5 0) scale(0.69 1)">Record</text>
<text x="0" y="455.4" font-size="11" fill="#2a2a2a" text-anchor="middle" transform="translate(175.5 0) scale(0.69 1)">Coldest</text>
<rect x="204.6" y="417.9" width="34.6" height="11.6" fill="#67a9cf" stroke="#000" stroke-width="1"/>
<text x="0" y="443.8" font-size="11" fill="#2a2a2a" text-anchor="middle" transform="translate(222.3 0) scale(0.69 1)">Much</text>
<text x="0" y="455.4" font-size="11" fill="#2a2a2a" text-anchor="middle" transform="translate(222.3 0) scale(0.69 1)">Below</text>
<text x="0" y="467.0" font-size="11" fill="#2a2a2a" text-anchor="middle" transform="translate(222.3 0) scale(0.69 1)">Average</text>
<rect x="251.4" y="417.9" width="34.6" height="11.6" fill="#d1e5f0" stroke="#000" stroke-width="1"/>
<text x="0" y="443.8" font-size="11" fill="#2a2a2a" text-anchor="middle" transform="translate(269.1 0) scale(0.69 1)">Below</text>
<text x="0" y="455.4" font-size="11" fill="#2a2a2a" text-anchor="middle" transform="translate(269.1 0) scale(0.69 1)">Average</text>
<rect x="298.1" y="417.9" width="34.6" height="11.6" fill="#f7f7f7" stroke="#000" stroke-width="1"/>
<text x="0" y="443.8" font-size="11" fill="#2a2a2a" text-anchor="middle" transform="translate(315.8 0) scale(0.69 1)">Near</text>
<text x="0" y="455.4" font-size="11" fill="#2a2a2a" text-anchor="middle" transform="translate(315.8 0) scale(0.69 1)">Average</text>
<rect x="344.9" y="417.9" width="34.6" height="11.6" fill="#fddbc7" stroke="#000" stroke-width="1"/>
<text x="0" y="443.8" font-size="11" fill="#2a2a2a" text-anchor="middle" transform="translate(362.6 0) scale(0.69 1)">Above</text>
<text x="0" y="455.4" font-size="11" fill="#2a2a2a" text-anchor="middle" transform="translate(362.6 0) scale(0.69 1)">Average</text>
<rect x="391.7" y="417.9" width="34.6" height="11.6" fill="#ef8a62" stroke="#000" stroke-width="1"/>
<text x="0" y="443.8" font-size="11" fill="#2a2a2a" text-anchor="middle" transform="translate(409.4 0) scale(0.69 1)">Much</text>
<text x="0" y="455.4" font-size="11" fill="#2a2a2a" text-anchor="middle" transform="translate(409.4 0) scale(0.69 1)">Above</text>
<text x="0" y="467.0" font-size="11" fill="#2a2a2a" text-anchor="middle" transform="translate(409.4 0) scale(0.69 1)">Average</text>
<rect x="438.5" y="417.9" width="34.6" height="11.6" fill="#b2182b" stroke="#000" stroke-width="1"/>
<text x="0" y="443.8" font-size="11" fill="#2a2a2a" text-anchor="middle" transform="translate(456.2 0) scale(0.69 1)">Record</text>
<text x="0" y="455.4" font-size="11" fill="#2a2a2a" text-anchor="middle" transform="translate(456.2 0) scale(0.69 1)">Warmest</text>
<text x="4.7" y="472.4" font-size="12.5" fill="#111" textLength="103" lengthAdjust="spacingAndGlyphs">Created: Tue Sep 07 2021</text>
<text x="555.2" y="472.4" font-size="12.5" fill="#111" textLength="92.6" lengthAdjust="spacingAndGlyphs">Data Source: nClimGrid</text>
</svg></body></html>
